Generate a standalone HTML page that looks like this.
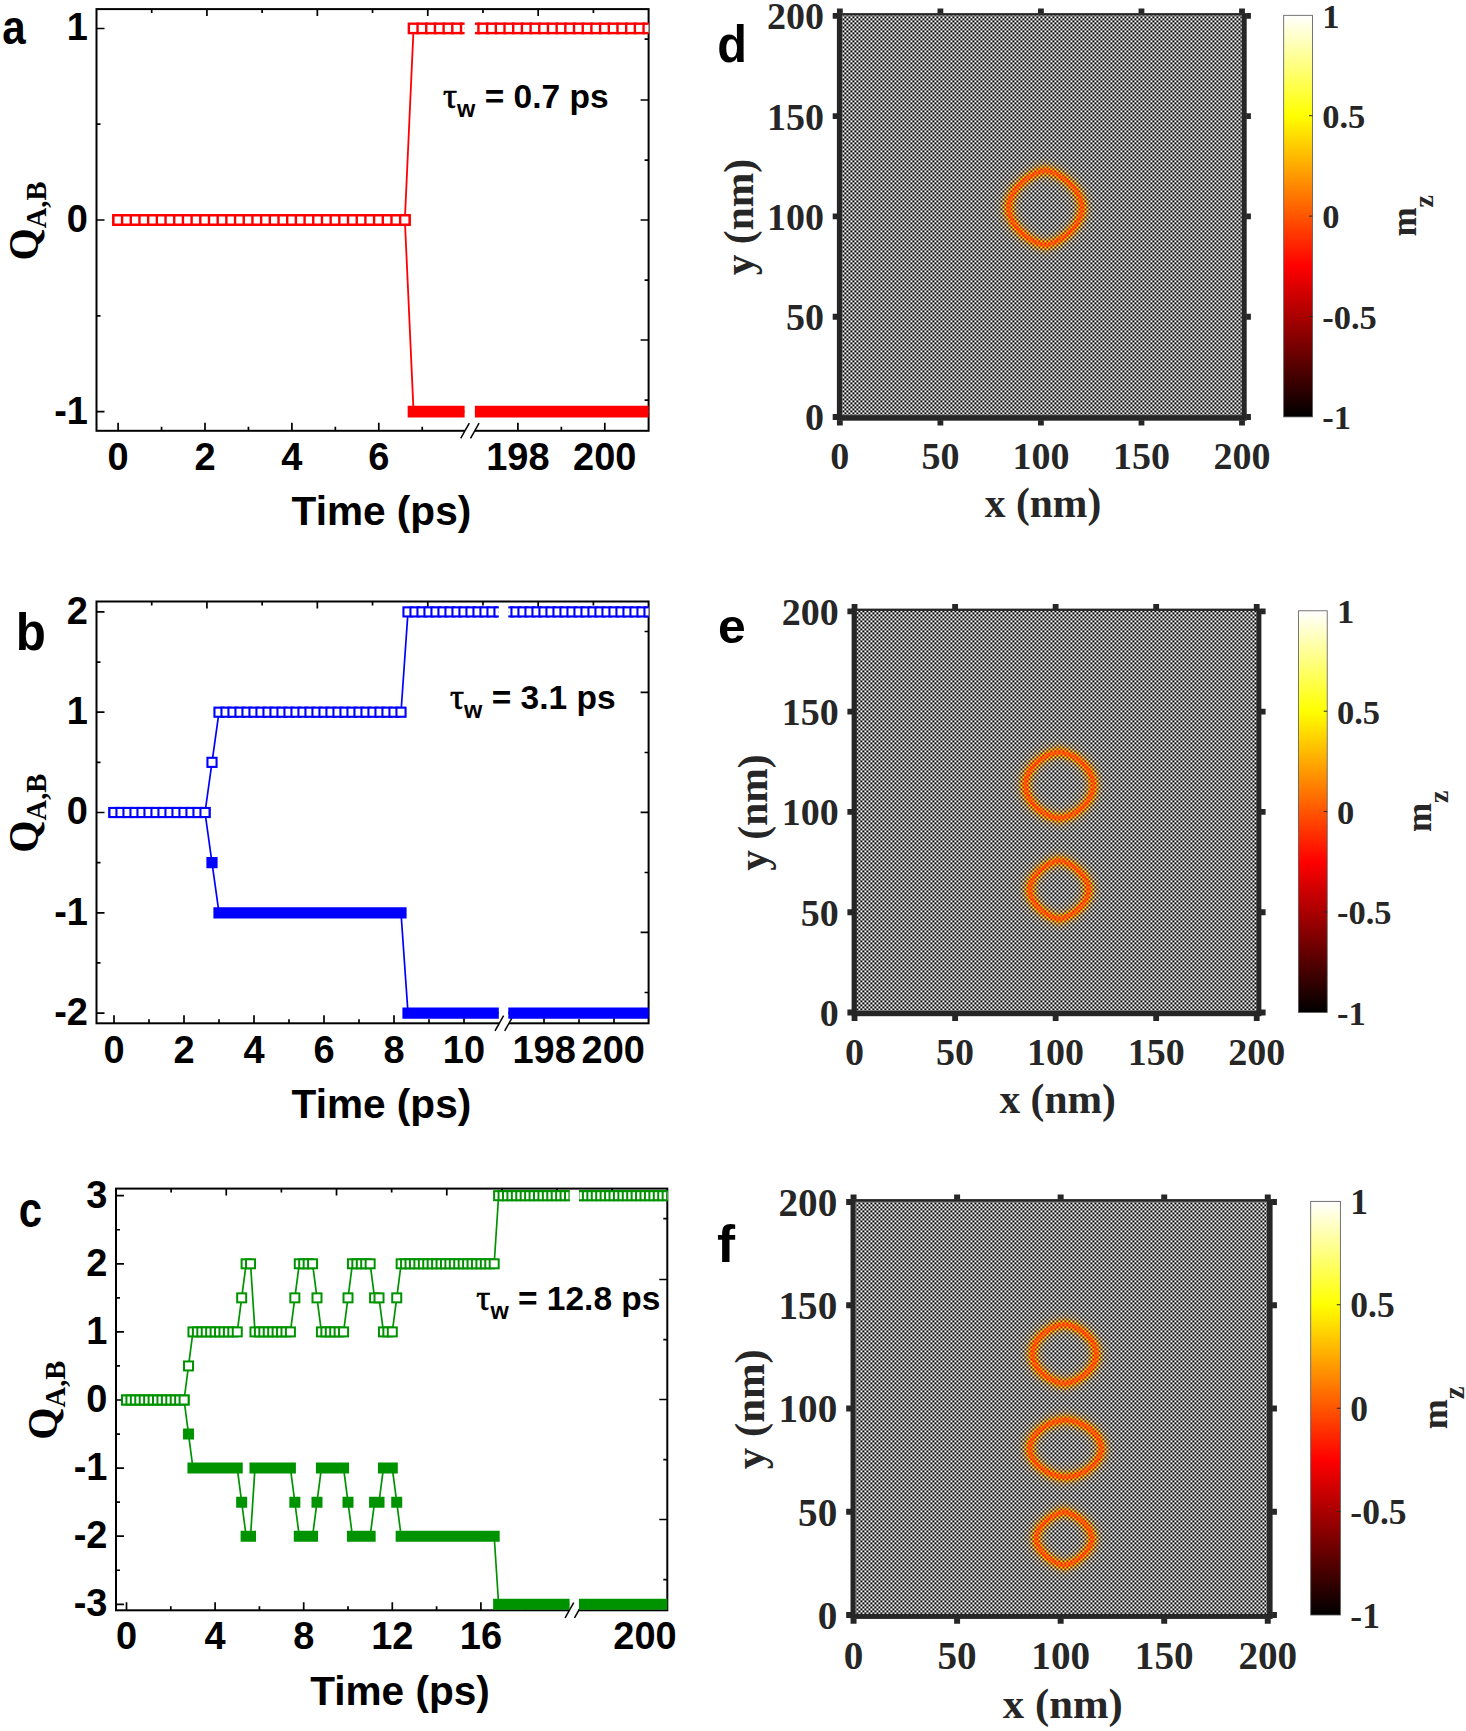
<!DOCTYPE html>
<html lang="en">
<head>
<meta charset="utf-8">
<title>Skyrmion pair nucleation: topological charge and m_z maps</title>
<style>
html,body{margin:0;padding:0;background:#fff}
body{width:1466px;height:1731px;overflow:hidden}
svg{display:block}
</style>
</head>
<body>
<svg width="1466" height="1731" viewBox="0 0 1466 1731">
<defs>
<clipPath id="ca1"><rect x="96.5" y="1.1" width="368.1" height="437.7"/></clipPath>
<clipPath id="ca2"><rect x="474.9" y="1.1" width="173.7" height="437.7"/></clipPath>
<clipPath id="cb1"><rect x="96.5" y="593.5" width="402.3" height="437.8"/></clipPath>
<clipPath id="cb2"><rect x="508.3" y="593.5" width="140.3" height="437.8"/></clipPath>
<clipPath id="cc1"><rect x="116" y="1180.6" width="453.6" height="437.7"/></clipPath>
<clipPath id="cc2"><rect x="579" y="1180.6" width="88.3" height="437.7"/></clipPath>
<pattern id="chk" patternUnits="userSpaceOnUse" x="0.4" y="0.4" width="4" height="4"><rect width="4" height="4" fill="#000"/><rect x="0" y="0" width="2" height="2" fill="#fff"/><rect x="2" y="2" width="2" height="2" fill="#fff"/></pattern>
<mask id="mB" maskUnits="userSpaceOnUse" x="830" y="0" width="460" height="1731"><rect x="830" y="0" width="460" height="1731" fill="url(#chk)"/></mask>
<linearGradient id="hotg" x1="0" y1="0" x2="0" y2="1"><stop offset="0" stop-color="#ffffff"/><stop offset="0.125" stop-color="#ffff80"/><stop offset="0.25" stop-color="#ffff00"/><stop offset="0.625" stop-color="#ff0000"/><stop offset="1" stop-color="#000000"/></linearGradient>
<clipPath id="cid"><rect x="842" y="15.35" width="399.8" height="399.95"/></clipPath>
<polygon id="rg145_190" points="1,0 0.995,0.077 0.979,0.158 0.953,0.241 0.918,0.323 0.873,0.404 0.82,0.482 0.759,0.557 0.692,0.628 0.62,0.694 0.544,0.755 0.465,0.811 0.384,0.859 0.305,0.902 0.228,0.937 0.155,0.964 0.089,0.984 0.035,0.996 0,1 -0.035,0.996 -0.089,0.984 -0.155,0.964 -0.228,0.937 -0.305,0.902 -0.384,0.859 -0.465,0.811 -0.544,0.755 -0.62,0.694 -0.692,0.628 -0.759,0.557 -0.82,0.482 -0.873,0.404 -0.918,0.323 -0.953,0.241 -0.979,0.158 -0.995,0.077 -1,0 -0.995,-0.077 -0.979,-0.158 -0.953,-0.241 -0.918,-0.323 -0.873,-0.404 -0.82,-0.482 -0.759,-0.557 -0.692,-0.628 -0.62,-0.694 -0.544,-0.755 -0.465,-0.811 -0.384,-0.859 -0.305,-0.902 -0.228,-0.937 -0.155,-0.964 -0.089,-0.984 -0.035,-0.996 -0,-1 0.035,-0.996 0.089,-0.984 0.155,-0.964 0.228,-0.937 0.305,-0.902 0.384,-0.859 0.465,-0.811 0.544,-0.755 0.62,-0.694 0.692,-0.628 0.759,-0.557 0.82,-0.482 0.873,-0.404 0.918,-0.323 0.953,-0.241 0.979,-0.158 0.995,-0.077"/>
<clipPath id="cie"><rect x="856.7" y="610.85" width="399.8" height="399.95"/></clipPath>
<polygon id="rg160_195" points="1,0 0.995,0.082 0.981,0.166 0.958,0.25 0.925,0.333 0.884,0.413 0.835,0.491 0.779,0.565 0.717,0.636 0.648,0.701 0.576,0.761 0.499,0.815 0.42,0.863 0.341,0.904 0.262,0.938 0.185,0.965 0.112,0.984 0.047,0.996 0,1 -0.047,0.996 -0.112,0.984 -0.185,0.965 -0.262,0.938 -0.341,0.904 -0.42,0.863 -0.499,0.815 -0.576,0.761 -0.648,0.701 -0.717,0.636 -0.779,0.565 -0.835,0.491 -0.884,0.413 -0.925,0.333 -0.958,0.25 -0.981,0.166 -0.995,0.082 -1,0 -0.995,-0.082 -0.981,-0.166 -0.958,-0.25 -0.925,-0.333 -0.884,-0.413 -0.835,-0.491 -0.779,-0.565 -0.717,-0.636 -0.648,-0.701 -0.576,-0.761 -0.499,-0.815 -0.42,-0.863 -0.341,-0.904 -0.262,-0.938 -0.185,-0.965 -0.112,-0.984 -0.047,-0.996 -0,-1 0.047,-0.996 0.112,-0.984 0.185,-0.965 0.262,-0.938 0.341,-0.904 0.42,-0.863 0.499,-0.815 0.576,-0.761 0.648,-0.701 0.717,-0.636 0.779,-0.565 0.835,-0.491 0.884,-0.413 0.925,-0.333 0.958,-0.25 0.981,-0.166 0.995,-0.082"/>
<polygon id="rg145_185" points="1,0 0.995,0.072 0.979,0.151 0.953,0.232 0.918,0.314 0.873,0.394 0.82,0.473 0.759,0.548 0.692,0.62 0.62,0.688 0.544,0.75 0.465,0.806 0.384,0.856 0.305,0.899 0.228,0.935 0.155,0.963 0.089,0.984 0.035,0.996 0,1 -0.035,0.996 -0.089,0.984 -0.155,0.963 -0.228,0.935 -0.305,0.899 -0.384,0.856 -0.465,0.806 -0.544,0.75 -0.62,0.688 -0.692,0.62 -0.759,0.548 -0.82,0.473 -0.873,0.394 -0.918,0.314 -0.953,0.232 -0.979,0.151 -0.995,0.072 -1,0 -0.995,-0.072 -0.979,-0.151 -0.953,-0.232 -0.918,-0.314 -0.873,-0.394 -0.82,-0.473 -0.759,-0.548 -0.692,-0.62 -0.62,-0.688 -0.544,-0.75 -0.465,-0.806 -0.384,-0.856 -0.305,-0.899 -0.228,-0.935 -0.155,-0.963 -0.089,-0.984 -0.035,-0.996 -0,-1 0.035,-0.996 0.089,-0.984 0.155,-0.963 0.228,-0.935 0.305,-0.899 0.384,-0.856 0.465,-0.806 0.544,-0.75 0.62,-0.688 0.692,-0.62 0.759,-0.548 0.82,-0.473 0.873,-0.394 0.918,-0.314 0.953,-0.232 0.979,-0.151 0.995,-0.072"/>
<clipPath id="cif"><rect x="855.4" y="1201.6" width="411.7" height="412.3"/></clipPath>
<polygon id="rg170_190" points="1,0 0.996,0.077 0.982,0.158 0.96,0.241 0.929,0.323 0.891,0.404 0.844,0.482 0.791,0.557 0.731,0.628 0.665,0.694 0.595,0.755 0.52,0.811 0.442,0.859 0.363,0.902 0.283,0.937 0.204,0.964 0.127,0.984 0.057,0.996 0,1 -0.057,0.996 -0.127,0.984 -0.204,0.964 -0.283,0.937 -0.363,0.902 -0.442,0.859 -0.52,0.811 -0.595,0.755 -0.665,0.694 -0.731,0.628 -0.791,0.557 -0.844,0.482 -0.891,0.404 -0.929,0.323 -0.96,0.241 -0.982,0.158 -0.996,0.077 -1,0 -0.996,-0.077 -0.982,-0.158 -0.96,-0.241 -0.929,-0.323 -0.891,-0.404 -0.844,-0.482 -0.791,-0.557 -0.731,-0.628 -0.665,-0.694 -0.595,-0.755 -0.52,-0.811 -0.442,-0.859 -0.363,-0.902 -0.283,-0.937 -0.204,-0.964 -0.127,-0.984 -0.057,-0.996 -0,-1 0.057,-0.996 0.127,-0.984 0.204,-0.964 0.283,-0.937 0.363,-0.902 0.442,-0.859 0.52,-0.811 0.595,-0.755 0.665,-0.694 0.731,-0.628 0.791,-0.557 0.844,-0.482 0.891,-0.404 0.929,-0.323 0.96,-0.241 0.982,-0.158 0.996,-0.077"/>
<polygon id="rg145_180" points="1,0 0.995,0.066 0.979,0.143 0.953,0.223 0.918,0.304 0.873,0.384 0.82,0.463 0.759,0.539 0.692,0.612 0.62,0.68 0.544,0.744 0.465,0.801 0.384,0.852 0.305,0.896 0.228,0.933 0.155,0.962 0.089,0.983 0.035,0.996 0,1 -0.035,0.996 -0.089,0.983 -0.155,0.962 -0.228,0.933 -0.305,0.896 -0.384,0.852 -0.465,0.801 -0.544,0.744 -0.62,0.68 -0.692,0.612 -0.759,0.539 -0.82,0.463 -0.873,0.384 -0.918,0.304 -0.953,0.223 -0.979,0.143 -0.995,0.066 -1,0 -0.995,-0.066 -0.979,-0.143 -0.953,-0.223 -0.918,-0.304 -0.873,-0.384 -0.82,-0.463 -0.759,-0.539 -0.692,-0.612 -0.62,-0.68 -0.544,-0.744 -0.465,-0.801 -0.384,-0.852 -0.305,-0.896 -0.228,-0.933 -0.155,-0.962 -0.089,-0.983 -0.035,-0.996 -0,-1 0.035,-0.996 0.089,-0.983 0.155,-0.962 0.228,-0.933 0.305,-0.896 0.384,-0.852 0.465,-0.801 0.544,-0.744 0.62,-0.68 0.692,-0.612 0.759,-0.539 0.82,-0.463 0.873,-0.384 0.918,-0.304 0.953,-0.223 0.979,-0.143 0.995,-0.066"/>
</defs>
<rect width="1466" height="1731" fill="#fff"/>
<g id="panel-a">
<g stroke="#000" stroke-width="2" fill="none" stroke-linecap="butt">
<rect x="96.5" y="9.1" width="552.1" height="421.7"/>
</g>
<path d="M118.1 430.8v-8M161.55 430.8v-4M205 430.8v-8M248.45 430.8v-4M291.9 430.8v-8M335.35 430.8v-4M378.8 430.8v-8M422.25 430.8v-4M517.9 430.8v-8M561.35 430.8v-4M604.8 430.8v-8M96.5 28.5h8M96.5 124.2h4M96.5 220h8M96.5 315.9h4M96.5 411.7h8M151.71 9.1v4M206.92 9.1v7M262.13 9.1v4M317.34 9.1v7M372.55 9.1v4M427.76 9.1v7M482.97 9.1v4M538.18 9.1v7M593.39 9.1v4M648.6 39.1h-4M648.6 100h-8M648.6 160.1h-4M648.6 220h-8M648.6 280.1h-4M648.6 340h-8M648.6 400.1h-4" stroke="#000" stroke-width="1.7" fill="none"/>
<rect x="465" y="428.8" width="9.8" height="4" fill="#fff"/>
<path d="M460.7 438.4L469.3 423.2" stroke="#000" stroke-width="1.5"/>
<path d="M470.5 438.4L479.1 423.2" stroke="#000" stroke-width="1.5"/>
<g clip-path="url(#ca1)">
<polyline points="118.1,220 126.79,220 135.48,220 144.17,220 152.86,220 161.55,220 170.24,220 178.93,220 187.62,220 196.31,220 205,220 213.69,220 222.38,220 231.07,220 239.76,220 248.45,220 257.14,220 265.83,220 274.52,220 283.21,220 291.9,220 300.59,220 309.28,220 317.97,220 326.66,220 335.35,220 344.04,220 352.73,220 361.42,220 370.11,220 378.8,220 387.49,220 396.18,220 404.87,220 413.56,411.6 422.25,411.6 430.94,411.6 439.63,411.6 448.32,411.6 457.01,411.6 465.7,411.6 474.39,411.6 483.08,411.6" fill="none" stroke="#ff0000" stroke-width="1.8" stroke-linejoin="round"/>
<path d="M112.2 214.1h11.8v11.8h-11.8zM120.89 214.1h11.8v11.8h-11.8zM129.58 214.1h11.8v11.8h-11.8zM138.27 214.1h11.8v11.8h-11.8zM146.96 214.1h11.8v11.8h-11.8zM155.65 214.1h11.8v11.8h-11.8zM164.34 214.1h11.8v11.8h-11.8zM173.03 214.1h11.8v11.8h-11.8zM181.72 214.1h11.8v11.8h-11.8zM190.41 214.1h11.8v11.8h-11.8zM199.1 214.1h11.8v11.8h-11.8zM207.79 214.1h11.8v11.8h-11.8zM216.48 214.1h11.8v11.8h-11.8zM225.17 214.1h11.8v11.8h-11.8zM233.86 214.1h11.8v11.8h-11.8zM242.55 214.1h11.8v11.8h-11.8zM251.24 214.1h11.8v11.8h-11.8zM259.93 214.1h11.8v11.8h-11.8zM268.62 214.1h11.8v11.8h-11.8zM277.31 214.1h11.8v11.8h-11.8zM286 214.1h11.8v11.8h-11.8zM294.69 214.1h11.8v11.8h-11.8zM303.38 214.1h11.8v11.8h-11.8zM312.07 214.1h11.8v11.8h-11.8zM320.76 214.1h11.8v11.8h-11.8zM329.45 214.1h11.8v11.8h-11.8zM338.14 214.1h11.8v11.8h-11.8zM346.83 214.1h11.8v11.8h-11.8zM355.52 214.1h11.8v11.8h-11.8zM364.21 214.1h11.8v11.8h-11.8zM372.9 214.1h11.8v11.8h-11.8zM381.59 214.1h11.8v11.8h-11.8zM390.28 214.1h11.8v11.8h-11.8zM398.97 214.1h11.8v11.8h-11.8zM407.66 405.7h11.8v11.8h-11.8zM416.35 405.7h11.8v11.8h-11.8zM425.04 405.7h11.8v11.8h-11.8zM433.73 405.7h11.8v11.8h-11.8zM442.42 405.7h11.8v11.8h-11.8zM451.11 405.7h11.8v11.8h-11.8zM459.8 405.7h11.8v11.8h-11.8zM468.49 405.7h11.8v11.8h-11.8zM477.18 405.7h11.8v11.8h-11.8z" fill="#ff0000"/>
<polyline points="118.1,220 126.79,220 135.48,220 144.17,220 152.86,220 161.55,220 170.24,220 178.93,220 187.62,220 196.31,220 205,220 213.69,220 222.38,220 231.07,220 239.76,220 248.45,220 257.14,220 265.83,220 274.52,220 283.21,220 291.9,220 300.59,220 309.28,220 317.97,220 326.66,220 335.35,220 344.04,220 352.73,220 361.42,220 370.11,220 378.8,220 387.49,220 396.18,220 404.87,220 413.56,28.4 422.25,28.4 430.94,28.4 439.63,28.4 448.32,28.4 457.01,28.4 465.7,28.4 474.39,28.4 483.08,28.4" fill="none" stroke="#ff0000" stroke-width="1.8" stroke-linejoin="round"/>
<g fill="#fff" stroke="#ff0000" stroke-width="2.4"><rect x="113.4" y="215.3" width="9.4" height="9.4"/><rect x="122.09" y="215.3" width="9.4" height="9.4"/><rect x="130.78" y="215.3" width="9.4" height="9.4"/><rect x="139.47" y="215.3" width="9.4" height="9.4"/><rect x="148.16" y="215.3" width="9.4" height="9.4"/><rect x="156.85" y="215.3" width="9.4" height="9.4"/><rect x="165.54" y="215.3" width="9.4" height="9.4"/><rect x="174.23" y="215.3" width="9.4" height="9.4"/><rect x="182.92" y="215.3" width="9.4" height="9.4"/><rect x="191.61" y="215.3" width="9.4" height="9.4"/><rect x="200.3" y="215.3" width="9.4" height="9.4"/><rect x="208.99" y="215.3" width="9.4" height="9.4"/><rect x="217.68" y="215.3" width="9.4" height="9.4"/><rect x="226.37" y="215.3" width="9.4" height="9.4"/><rect x="235.06" y="215.3" width="9.4" height="9.4"/><rect x="243.75" y="215.3" width="9.4" height="9.4"/><rect x="252.44" y="215.3" width="9.4" height="9.4"/><rect x="261.13" y="215.3" width="9.4" height="9.4"/><rect x="269.82" y="215.3" width="9.4" height="9.4"/><rect x="278.51" y="215.3" width="9.4" height="9.4"/><rect x="287.2" y="215.3" width="9.4" height="9.4"/><rect x="295.89" y="215.3" width="9.4" height="9.4"/><rect x="304.58" y="215.3" width="9.4" height="9.4"/><rect x="313.27" y="215.3" width="9.4" height="9.4"/><rect x="321.96" y="215.3" width="9.4" height="9.4"/><rect x="330.65" y="215.3" width="9.4" height="9.4"/><rect x="339.34" y="215.3" width="9.4" height="9.4"/><rect x="348.03" y="215.3" width="9.4" height="9.4"/><rect x="356.72" y="215.3" width="9.4" height="9.4"/><rect x="365.41" y="215.3" width="9.4" height="9.4"/><rect x="374.1" y="215.3" width="9.4" height="9.4"/><rect x="382.79" y="215.3" width="9.4" height="9.4"/><rect x="391.48" y="215.3" width="9.4" height="9.4"/><rect x="400.17" y="215.3" width="9.4" height="9.4"/><rect x="408.86" y="23.7" width="9.4" height="9.4"/><rect x="417.55" y="23.7" width="9.4" height="9.4"/><rect x="426.24" y="23.7" width="9.4" height="9.4"/><rect x="434.93" y="23.7" width="9.4" height="9.4"/><rect x="443.62" y="23.7" width="9.4" height="9.4"/><rect x="452.31" y="23.7" width="9.4" height="9.4"/><rect x="461" y="23.7" width="9.4" height="9.4"/><rect x="469.69" y="23.7" width="9.4" height="9.4"/><rect x="478.38" y="23.7" width="9.4" height="9.4"/></g>
</g>
<g clip-path="url(#ca2)">
<polyline points="457.07,411.6 465.76,411.6 474.45,411.6 483.14,411.6 491.83,411.6 500.52,411.6 509.21,411.6 517.9,411.6 526.59,411.6 535.28,411.6 543.97,411.6 552.66,411.6 561.35,411.6 570.04,411.6 578.73,411.6 587.42,411.6 596.11,411.6 604.8,411.6 613.49,411.6 622.18,411.6 630.87,411.6 639.56,411.6 648.25,411.6 656.94,411.6 665.63,411.6" fill="none" stroke="#ff0000" stroke-width="1.8" stroke-linejoin="round"/>
<path d="M451.17 405.7h11.8v11.8h-11.8zM459.86 405.7h11.8v11.8h-11.8zM468.55 405.7h11.8v11.8h-11.8zM477.24 405.7h11.8v11.8h-11.8zM485.93 405.7h11.8v11.8h-11.8zM494.62 405.7h11.8v11.8h-11.8zM503.31 405.7h11.8v11.8h-11.8zM512 405.7h11.8v11.8h-11.8zM520.69 405.7h11.8v11.8h-11.8zM529.38 405.7h11.8v11.8h-11.8zM538.07 405.7h11.8v11.8h-11.8zM546.76 405.7h11.8v11.8h-11.8zM555.45 405.7h11.8v11.8h-11.8zM564.14 405.7h11.8v11.8h-11.8zM572.83 405.7h11.8v11.8h-11.8zM581.52 405.7h11.8v11.8h-11.8zM590.21 405.7h11.8v11.8h-11.8zM598.9 405.7h11.8v11.8h-11.8zM607.59 405.7h11.8v11.8h-11.8zM616.28 405.7h11.8v11.8h-11.8zM624.97 405.7h11.8v11.8h-11.8zM633.66 405.7h11.8v11.8h-11.8zM642.35 405.7h11.8v11.8h-11.8zM651.04 405.7h11.8v11.8h-11.8zM659.73 405.7h11.8v11.8h-11.8z" fill="#ff0000"/>
<polyline points="457.07,28.4 465.76,28.4 474.45,28.4 483.14,28.4 491.83,28.4 500.52,28.4 509.21,28.4 517.9,28.4 526.59,28.4 535.28,28.4 543.97,28.4 552.66,28.4 561.35,28.4 570.04,28.4 578.73,28.4 587.42,28.4 596.11,28.4 604.8,28.4 613.49,28.4 622.18,28.4 630.87,28.4 639.56,28.4 648.25,28.4 656.94,28.4 665.63,28.4" fill="none" stroke="#ff0000" stroke-width="1.8" stroke-linejoin="round"/>
<g fill="#fff" stroke="#ff0000" stroke-width="2.4"><rect x="452.37" y="23.7" width="9.4" height="9.4"/><rect x="461.06" y="23.7" width="9.4" height="9.4"/><rect x="469.75" y="23.7" width="9.4" height="9.4"/><rect x="478.44" y="23.7" width="9.4" height="9.4"/><rect x="487.13" y="23.7" width="9.4" height="9.4"/><rect x="495.82" y="23.7" width="9.4" height="9.4"/><rect x="504.51" y="23.7" width="9.4" height="9.4"/><rect x="513.2" y="23.7" width="9.4" height="9.4"/><rect x="521.89" y="23.7" width="9.4" height="9.4"/><rect x="530.58" y="23.7" width="9.4" height="9.4"/><rect x="539.27" y="23.7" width="9.4" height="9.4"/><rect x="547.96" y="23.7" width="9.4" height="9.4"/><rect x="556.65" y="23.7" width="9.4" height="9.4"/><rect x="565.34" y="23.7" width="9.4" height="9.4"/><rect x="574.03" y="23.7" width="9.4" height="9.4"/><rect x="582.72" y="23.7" width="9.4" height="9.4"/><rect x="591.41" y="23.7" width="9.4" height="9.4"/><rect x="600.1" y="23.7" width="9.4" height="9.4"/><rect x="608.79" y="23.7" width="9.4" height="9.4"/><rect x="617.48" y="23.7" width="9.4" height="9.4"/><rect x="626.17" y="23.7" width="9.4" height="9.4"/><rect x="634.86" y="23.7" width="9.4" height="9.4"/><rect x="643.55" y="23.7" width="9.4" height="9.4"/><rect x="652.24" y="23.7" width="9.4" height="9.4"/><rect x="660.93" y="23.7" width="9.4" height="9.4"/></g>
</g>
<g font-family='"Liberation Sans", Arial, Helvetica, sans-serif' font-weight="bold" font-size="38" fill="#000">
<g text-anchor="middle">
<text transform="translate(118.1 470.1) scale(1 1.045)">0</text>
<text transform="translate(205 470.1) scale(1 1.045)">2</text>
<text transform="translate(291.9 470.1) scale(1 1.045)">4</text>
<text transform="translate(378.8 470.1) scale(1 1.045)">6</text>
<text transform="translate(517.9 470.1) scale(1 1.045)">198</text>
<text transform="translate(604.8 470.1) scale(1 1.045)">200</text>
</g><g text-anchor="end">
<text transform="translate(88 40.4) scale(1 1.045)">1</text>
<text transform="translate(88 231.9) scale(1 1.045)">0</text>
<text transform="translate(88 423.6) scale(1 1.045)">-1</text>
</g></g>
<text x="381.4" y="524.9" text-anchor="middle" font-family='"Liberation Sans", Arial, Helvetica, sans-serif' font-weight="bold" font-size="40.6" fill="#000">Time (ps)</text>
<text transform="translate(37.9 260.5) rotate(-90)" font-family='"Liberation Serif", "Times New Roman", Times, serif' font-weight="bold" font-size="41.5" fill="#000">Q<tspan font-size="28.5" dy="8">A,B</tspan></text>
<text x="443" y="108" font-family='"Liberation Sans", Arial, Helvetica, sans-serif' font-weight="bold" font-size="33.5" fill="#000"><tspan font-family='"Liberation Serif", "Times New Roman", Times, serif' font-weight="normal" font-size="35" stroke="#000" stroke-width="0.7">τ</tspan><tspan font-size="23.5" dy="8.8">w</tspan><tspan dy="-8.8"> = 0.7 ps</tspan></text>
<text transform="translate(2.14 43.72) scale(0.8421 0.9653)" font-family='"Liberation Sans", Arial, Helvetica, sans-serif' font-weight="bold" font-size="50" fill="#000">a</text>
</g>
<g id="panel-b">
<g stroke="#000" stroke-width="2" fill="none" stroke-linecap="butt">
<rect x="96.5" y="601.5" width="552.1" height="421.8"/>
</g>
<path d="M114 1023.3v-8M149 1023.3v-4M184 1023.3v-8M219 1023.3v-4M254 1023.3v-8M289 1023.3v-4M324 1023.3v-8M359 1023.3v-4M394 1023.3v-8M429 1023.3v-4M464 1023.3v-8M544 1023.3v-8M579 1023.3v-4M614 1023.3v-8M96.5 611.9h8M96.5 662.05h4M96.5 712.2h8M96.5 762.35h4M96.5 812.5h8M96.5 862.65h4M96.5 912.8h8M96.5 962.95h4M96.5 1013.1h8M151.71 601.5v4M206.92 601.5v7M262.13 601.5v4M317.34 601.5v7M372.55 601.5v4M427.76 601.5v7M482.97 601.5v4M538.18 601.5v7M593.39 601.5v4M648.6 631.5h-4M648.6 692.4h-8M648.6 752.5h-4M648.6 812.4h-8M648.6 872.5h-4M648.6 932.4h-8M648.6 992.5h-4" stroke="#000" stroke-width="1.7" fill="none"/>
<rect x="499.3" y="1021.3" width="9.7" height="4" fill="#fff"/>
<path d="M495 1030.9L503.6 1015.7" stroke="#000" stroke-width="1.5"/>
<path d="M504.7 1030.9L513.3 1015.7" stroke="#000" stroke-width="1.5"/>
<g clip-path="url(#cb1)">
<polyline points="114,812.5 121,812.5 128,812.5 135,812.5 142,812.5 149,812.5 156,812.5 163,812.5 170,812.5 177,812.5 184,812.5 191,812.5 198,812.5 205,812.5 212,862.65 219,912.8 226,912.8 233,912.8 240,912.8 247,912.8 254,912.8 261,912.8 268,912.8 275,912.8 282,912.8 289,912.8 296,912.8 303,912.8 310,912.8 317,912.8 324,912.8 331,912.8 338,912.8 345,912.8 352,912.8 359,912.8 366,912.8 373,912.8 380,912.8 387,912.8 394,912.8 401,912.8 408,1013.1 415,1013.1 422,1013.1 429,1013.1 436,1013.1 443,1013.1 450,1013.1 457,1013.1 464,1013.1 471,1013.1 478,1013.1 485,1013.1 492,1013.1 499,1013.1 506,1013.1 513,1013.1 520,1013.1" fill="none" stroke="#0000ff" stroke-width="1.7" stroke-linejoin="round"/>
<path d="M108.4 806.9h11.2v11.2h-11.2zM115.4 806.9h11.2v11.2h-11.2zM122.4 806.9h11.2v11.2h-11.2zM129.4 806.9h11.2v11.2h-11.2zM136.4 806.9h11.2v11.2h-11.2zM143.4 806.9h11.2v11.2h-11.2zM150.4 806.9h11.2v11.2h-11.2zM157.4 806.9h11.2v11.2h-11.2zM164.4 806.9h11.2v11.2h-11.2zM171.4 806.9h11.2v11.2h-11.2zM178.4 806.9h11.2v11.2h-11.2zM185.4 806.9h11.2v11.2h-11.2zM192.4 806.9h11.2v11.2h-11.2zM199.4 806.9h11.2v11.2h-11.2zM206.4 857.05h11.2v11.2h-11.2zM213.4 907.2h11.2v11.2h-11.2zM220.4 907.2h11.2v11.2h-11.2zM227.4 907.2h11.2v11.2h-11.2zM234.4 907.2h11.2v11.2h-11.2zM241.4 907.2h11.2v11.2h-11.2zM248.4 907.2h11.2v11.2h-11.2zM255.4 907.2h11.2v11.2h-11.2zM262.4 907.2h11.2v11.2h-11.2zM269.4 907.2h11.2v11.2h-11.2zM276.4 907.2h11.2v11.2h-11.2zM283.4 907.2h11.2v11.2h-11.2zM290.4 907.2h11.2v11.2h-11.2zM297.4 907.2h11.2v11.2h-11.2zM304.4 907.2h11.2v11.2h-11.2zM311.4 907.2h11.2v11.2h-11.2zM318.4 907.2h11.2v11.2h-11.2zM325.4 907.2h11.2v11.2h-11.2zM332.4 907.2h11.2v11.2h-11.2zM339.4 907.2h11.2v11.2h-11.2zM346.4 907.2h11.2v11.2h-11.2zM353.4 907.2h11.2v11.2h-11.2zM360.4 907.2h11.2v11.2h-11.2zM367.4 907.2h11.2v11.2h-11.2zM374.4 907.2h11.2v11.2h-11.2zM381.4 907.2h11.2v11.2h-11.2zM388.4 907.2h11.2v11.2h-11.2zM395.4 907.2h11.2v11.2h-11.2zM402.4 1007.5h11.2v11.2h-11.2zM409.4 1007.5h11.2v11.2h-11.2zM416.4 1007.5h11.2v11.2h-11.2zM423.4 1007.5h11.2v11.2h-11.2zM430.4 1007.5h11.2v11.2h-11.2zM437.4 1007.5h11.2v11.2h-11.2zM444.4 1007.5h11.2v11.2h-11.2zM451.4 1007.5h11.2v11.2h-11.2zM458.4 1007.5h11.2v11.2h-11.2zM465.4 1007.5h11.2v11.2h-11.2zM472.4 1007.5h11.2v11.2h-11.2zM479.4 1007.5h11.2v11.2h-11.2zM486.4 1007.5h11.2v11.2h-11.2zM493.4 1007.5h11.2v11.2h-11.2zM500.4 1007.5h11.2v11.2h-11.2zM507.4 1007.5h11.2v11.2h-11.2zM514.4 1007.5h11.2v11.2h-11.2z" fill="#0000ff"/>
<polyline points="114,812.5 121,812.5 128,812.5 135,812.5 142,812.5 149,812.5 156,812.5 163,812.5 170,812.5 177,812.5 184,812.5 191,812.5 198,812.5 205,812.5 212,762.35 219,712.2 226,712.2 233,712.2 240,712.2 247,712.2 254,712.2 261,712.2 268,712.2 275,712.2 282,712.2 289,712.2 296,712.2 303,712.2 310,712.2 317,712.2 324,712.2 331,712.2 338,712.2 345,712.2 352,712.2 359,712.2 366,712.2 373,712.2 380,712.2 387,712.2 394,712.2 401,712.2 408,611.9 415,611.9 422,611.9 429,611.9 436,611.9 443,611.9 450,611.9 457,611.9 464,611.9 471,611.9 478,611.9 485,611.9 492,611.9 499,611.9 506,611.9 513,611.9 520,611.9" fill="none" stroke="#0000ff" stroke-width="1.7" stroke-linejoin="round"/>
<g fill="#fff" stroke="#0000ff" stroke-width="2.1"><rect x="109.45" y="807.95" width="9.1" height="9.1"/><rect x="116.45" y="807.95" width="9.1" height="9.1"/><rect x="123.45" y="807.95" width="9.1" height="9.1"/><rect x="130.45" y="807.95" width="9.1" height="9.1"/><rect x="137.45" y="807.95" width="9.1" height="9.1"/><rect x="144.45" y="807.95" width="9.1" height="9.1"/><rect x="151.45" y="807.95" width="9.1" height="9.1"/><rect x="158.45" y="807.95" width="9.1" height="9.1"/><rect x="165.45" y="807.95" width="9.1" height="9.1"/><rect x="172.45" y="807.95" width="9.1" height="9.1"/><rect x="179.45" y="807.95" width="9.1" height="9.1"/><rect x="186.45" y="807.95" width="9.1" height="9.1"/><rect x="193.45" y="807.95" width="9.1" height="9.1"/><rect x="200.45" y="807.95" width="9.1" height="9.1"/><rect x="207.45" y="757.8" width="9.1" height="9.1"/><rect x="214.45" y="707.65" width="9.1" height="9.1"/><rect x="221.45" y="707.65" width="9.1" height="9.1"/><rect x="228.45" y="707.65" width="9.1" height="9.1"/><rect x="235.45" y="707.65" width="9.1" height="9.1"/><rect x="242.45" y="707.65" width="9.1" height="9.1"/><rect x="249.45" y="707.65" width="9.1" height="9.1"/><rect x="256.45" y="707.65" width="9.1" height="9.1"/><rect x="263.45" y="707.65" width="9.1" height="9.1"/><rect x="270.45" y="707.65" width="9.1" height="9.1"/><rect x="277.45" y="707.65" width="9.1" height="9.1"/><rect x="284.45" y="707.65" width="9.1" height="9.1"/><rect x="291.45" y="707.65" width="9.1" height="9.1"/><rect x="298.45" y="707.65" width="9.1" height="9.1"/><rect x="305.45" y="707.65" width="9.1" height="9.1"/><rect x="312.45" y="707.65" width="9.1" height="9.1"/><rect x="319.45" y="707.65" width="9.1" height="9.1"/><rect x="326.45" y="707.65" width="9.1" height="9.1"/><rect x="333.45" y="707.65" width="9.1" height="9.1"/><rect x="340.45" y="707.65" width="9.1" height="9.1"/><rect x="347.45" y="707.65" width="9.1" height="9.1"/><rect x="354.45" y="707.65" width="9.1" height="9.1"/><rect x="361.45" y="707.65" width="9.1" height="9.1"/><rect x="368.45" y="707.65" width="9.1" height="9.1"/><rect x="375.45" y="707.65" width="9.1" height="9.1"/><rect x="382.45" y="707.65" width="9.1" height="9.1"/><rect x="389.45" y="707.65" width="9.1" height="9.1"/><rect x="396.45" y="707.65" width="9.1" height="9.1"/><rect x="403.45" y="607.35" width="9.1" height="9.1"/><rect x="410.45" y="607.35" width="9.1" height="9.1"/><rect x="417.45" y="607.35" width="9.1" height="9.1"/><rect x="424.45" y="607.35" width="9.1" height="9.1"/><rect x="431.45" y="607.35" width="9.1" height="9.1"/><rect x="438.45" y="607.35" width="9.1" height="9.1"/><rect x="445.45" y="607.35" width="9.1" height="9.1"/><rect x="452.45" y="607.35" width="9.1" height="9.1"/><rect x="459.45" y="607.35" width="9.1" height="9.1"/><rect x="466.45" y="607.35" width="9.1" height="9.1"/><rect x="473.45" y="607.35" width="9.1" height="9.1"/><rect x="480.45" y="607.35" width="9.1" height="9.1"/><rect x="487.45" y="607.35" width="9.1" height="9.1"/><rect x="494.45" y="607.35" width="9.1" height="9.1"/><rect x="501.45" y="607.35" width="9.1" height="9.1"/><rect x="508.45" y="607.35" width="9.1" height="9.1"/><rect x="515.45" y="607.35" width="9.1" height="9.1"/></g>
</g>
<g clip-path="url(#cb2)">
<polyline points="495,1013.1 502,1013.1 509,1013.1 516,1013.1 523,1013.1 530,1013.1 537,1013.1 544,1013.1 551,1013.1 558,1013.1 565,1013.1 572,1013.1 579,1013.1 586,1013.1 593,1013.1 600,1013.1 607,1013.1 614,1013.1 621,1013.1 628,1013.1 635,1013.1 642,1013.1 649,1013.1 656,1013.1 663,1013.1" fill="none" stroke="#0000ff" stroke-width="1.7" stroke-linejoin="round"/>
<path d="M489.4 1007.5h11.2v11.2h-11.2zM496.4 1007.5h11.2v11.2h-11.2zM503.4 1007.5h11.2v11.2h-11.2zM510.4 1007.5h11.2v11.2h-11.2zM517.4 1007.5h11.2v11.2h-11.2zM524.4 1007.5h11.2v11.2h-11.2zM531.4 1007.5h11.2v11.2h-11.2zM538.4 1007.5h11.2v11.2h-11.2zM545.4 1007.5h11.2v11.2h-11.2zM552.4 1007.5h11.2v11.2h-11.2zM559.4 1007.5h11.2v11.2h-11.2zM566.4 1007.5h11.2v11.2h-11.2zM573.4 1007.5h11.2v11.2h-11.2zM580.4 1007.5h11.2v11.2h-11.2zM587.4 1007.5h11.2v11.2h-11.2zM594.4 1007.5h11.2v11.2h-11.2zM601.4 1007.5h11.2v11.2h-11.2zM608.4 1007.5h11.2v11.2h-11.2zM615.4 1007.5h11.2v11.2h-11.2zM622.4 1007.5h11.2v11.2h-11.2zM629.4 1007.5h11.2v11.2h-11.2zM636.4 1007.5h11.2v11.2h-11.2zM643.4 1007.5h11.2v11.2h-11.2zM650.4 1007.5h11.2v11.2h-11.2zM657.4 1007.5h11.2v11.2h-11.2z" fill="#0000ff"/>
<polyline points="495,611.9 502,611.9 509,611.9 516,611.9 523,611.9 530,611.9 537,611.9 544,611.9 551,611.9 558,611.9 565,611.9 572,611.9 579,611.9 586,611.9 593,611.9 600,611.9 607,611.9 614,611.9 621,611.9 628,611.9 635,611.9 642,611.9 649,611.9 656,611.9 663,611.9" fill="none" stroke="#0000ff" stroke-width="1.7" stroke-linejoin="round"/>
<g fill="#fff" stroke="#0000ff" stroke-width="2.1"><rect x="490.45" y="607.35" width="9.1" height="9.1"/><rect x="497.45" y="607.35" width="9.1" height="9.1"/><rect x="504.45" y="607.35" width="9.1" height="9.1"/><rect x="511.45" y="607.35" width="9.1" height="9.1"/><rect x="518.45" y="607.35" width="9.1" height="9.1"/><rect x="525.45" y="607.35" width="9.1" height="9.1"/><rect x="532.45" y="607.35" width="9.1" height="9.1"/><rect x="539.45" y="607.35" width="9.1" height="9.1"/><rect x="546.45" y="607.35" width="9.1" height="9.1"/><rect x="553.45" y="607.35" width="9.1" height="9.1"/><rect x="560.45" y="607.35" width="9.1" height="9.1"/><rect x="567.45" y="607.35" width="9.1" height="9.1"/><rect x="574.45" y="607.35" width="9.1" height="9.1"/><rect x="581.45" y="607.35" width="9.1" height="9.1"/><rect x="588.45" y="607.35" width="9.1" height="9.1"/><rect x="595.45" y="607.35" width="9.1" height="9.1"/><rect x="602.45" y="607.35" width="9.1" height="9.1"/><rect x="609.45" y="607.35" width="9.1" height="9.1"/><rect x="616.45" y="607.35" width="9.1" height="9.1"/><rect x="623.45" y="607.35" width="9.1" height="9.1"/><rect x="630.45" y="607.35" width="9.1" height="9.1"/><rect x="637.45" y="607.35" width="9.1" height="9.1"/><rect x="644.45" y="607.35" width="9.1" height="9.1"/><rect x="651.45" y="607.35" width="9.1" height="9.1"/><rect x="658.45" y="607.35" width="9.1" height="9.1"/></g>
</g>
<g font-family='"Liberation Sans", Arial, Helvetica, sans-serif' font-weight="bold" font-size="38" fill="#000">
<g text-anchor="middle">
<text transform="translate(114 1062.9) scale(1 1.045)">0</text>
<text transform="translate(184 1062.9) scale(1 1.045)">2</text>
<text transform="translate(254 1062.9) scale(1 1.045)">4</text>
<text transform="translate(324 1062.9) scale(1 1.045)">6</text>
<text transform="translate(394 1062.9) scale(1 1.045)">8</text>
<text transform="translate(464 1062.9) scale(1 1.045)">10</text>
<text transform="translate(544.1 1062.9) scale(1 1.045)">198</text>
<text transform="translate(613.2 1062.9) scale(1 1.045)">200</text>
</g><g text-anchor="end">
<text transform="translate(88 623.8) scale(1 1.045)">2</text>
<text transform="translate(88 724.1) scale(1 1.045)">1</text>
<text transform="translate(88 824.4) scale(1 1.045)">0</text>
<text transform="translate(88 924.7) scale(1 1.045)">-1</text>
<text transform="translate(88 1025) scale(1 1.045)">-2</text>
</g></g>
<text x="381.4" y="1117.5" text-anchor="middle" font-family='"Liberation Sans", Arial, Helvetica, sans-serif' font-weight="bold" font-size="40.6" fill="#000">Time (ps)</text>
<text transform="translate(37.9 852.7) rotate(-90)" font-family='"Liberation Serif", "Times New Roman", Times, serif' font-weight="bold" font-size="41.5" fill="#000">Q<tspan font-size="28.5" dy="8">A,B</tspan></text>
<text x="450" y="709" font-family='"Liberation Sans", Arial, Helvetica, sans-serif' font-weight="bold" font-size="33.5" fill="#000"><tspan font-family='"Liberation Serif", "Times New Roman", Times, serif' font-weight="normal" font-size="35" stroke="#000" stroke-width="0.7">τ</tspan><tspan font-size="23.5" dy="8.8">w</tspan><tspan dy="-8.8"> = 3.1 ps</tspan></text>
<text transform="translate(15.8 650.48) scale(0.9861 1.0367)" font-family='"Liberation Sans", Arial, Helvetica, sans-serif' font-weight="bold" font-size="50" fill="#000">b</text>
</g>
<g id="panel-c">
<g stroke="#000" stroke-width="2" fill="none" stroke-linecap="butt">
<rect x="116" y="1188.6" width="551.3" height="421.7"/>
</g>
<path d="M126.5 1610.3v-8M170.8 1610.3v-4M215.1 1610.3v-8M259.4 1610.3v-4M303.7 1610.3v-8M348 1610.3v-4M392.3 1610.3v-8M436.6 1610.3v-4M480.9 1610.3v-8M525.2 1610.3v-4M116 1604.3h8M116 1570.25h4M116 1536.2h8M116 1502.15h4M116 1468.1h8M116 1434.05h4M116 1400h8M116 1365.95h4M116 1331.9h8M116 1297.85h4M116 1263.8h8M116 1229.75h4M116 1195.7h8M171.13 1188.6v4M226.26 1188.6v7M281.39 1188.6v4M336.52 1188.6v7M391.65 1188.6v4M446.78 1188.6v7M501.91 1188.6v4M557.04 1188.6v7M612.17 1188.6v4M667.3 1218.6h-4M667.3 1279.5h-8M667.3 1339.6h-4M667.3 1399.5h-8M667.3 1459.6h-4M667.3 1519.5h-8M667.3 1579.6h-4" stroke="#000" stroke-width="1.7" fill="none"/>
<rect x="569.4" y="1608.3" width="9.4" height="4" fill="#fff"/>
<path d="M565.1 1617.9L573.7 1602.7" stroke="#000" stroke-width="1.5"/>
<path d="M574.5 1617.9L583.1 1602.7" stroke="#000" stroke-width="1.5"/>
<g clip-path="url(#cc1)">
<polyline points="126.5,1400 130.93,1400 135.36,1400 139.79,1400 144.22,1400 148.65,1400 153.08,1400 157.51,1400 161.94,1400 166.37,1400 170.8,1400 175.23,1400 179.66,1400 184.09,1400 188.52,1434.05 192.95,1468.1 197.38,1468.1 201.81,1468.1 206.24,1468.1 210.67,1468.1 215.1,1468.1 219.53,1468.1 223.96,1468.1 228.39,1468.1 232.82,1468.1 237.25,1468.1 241.68,1502.15 246.11,1536.2 250.54,1536.2 254.97,1468.1 259.4,1468.1 263.83,1468.1 268.26,1468.1 272.69,1468.1 277.12,1468.1 281.55,1468.1 285.98,1468.1 290.41,1468.1 294.84,1502.15 299.27,1536.2 303.7,1536.2 308.13,1536.2 312.56,1536.2 316.99,1502.15 321.42,1468.1 325.85,1468.1 330.28,1468.1 334.71,1468.1 339.14,1468.1 343.57,1468.1 348,1502.15 352.43,1536.2 356.86,1536.2 361.29,1536.2 365.72,1536.2 370.15,1536.2 374.58,1502.15 379.01,1502.15 383.44,1468.1 387.87,1468.1 392.3,1468.1 396.73,1502.15 401.16,1536.2 405.59,1536.2 410.02,1536.2 414.45,1536.2 418.88,1536.2 423.31,1536.2 427.74,1536.2 432.17,1536.2 436.6,1536.2 441.03,1536.2 445.46,1536.2 449.89,1536.2 454.32,1536.2 458.75,1536.2 463.18,1536.2 467.61,1536.2 472.04,1536.2 476.47,1536.2 480.9,1536.2 485.33,1536.2 489.76,1536.2 494.19,1536.2 498.62,1604.3 503.05,1604.3 507.48,1604.3 511.91,1604.3 516.34,1604.3 520.77,1604.3 525.2,1604.3 529.63,1604.3 534.06,1604.3 538.49,1604.3 542.92,1604.3 547.35,1604.3 551.78,1604.3 556.21,1604.3 560.64,1604.3 565.07,1604.3 569.5,1604.3 573.93,1604.3 578.36,1604.3 582.79,1604.3" fill="none" stroke="#009300" stroke-width="1.7" stroke-linejoin="round"/>
<path d="M121 1394.5h11v11h-11zM125.43 1394.5h11v11h-11zM129.86 1394.5h11v11h-11zM134.29 1394.5h11v11h-11zM138.72 1394.5h11v11h-11zM143.15 1394.5h11v11h-11zM147.58 1394.5h11v11h-11zM152.01 1394.5h11v11h-11zM156.44 1394.5h11v11h-11zM160.87 1394.5h11v11h-11zM165.3 1394.5h11v11h-11zM169.73 1394.5h11v11h-11zM174.16 1394.5h11v11h-11zM178.59 1394.5h11v11h-11zM183.02 1428.55h11v11h-11zM187.45 1462.6h11v11h-11zM191.88 1462.6h11v11h-11zM196.31 1462.6h11v11h-11zM200.74 1462.6h11v11h-11zM205.17 1462.6h11v11h-11zM209.6 1462.6h11v11h-11zM214.03 1462.6h11v11h-11zM218.46 1462.6h11v11h-11zM222.89 1462.6h11v11h-11zM227.32 1462.6h11v11h-11zM231.75 1462.6h11v11h-11zM236.18 1496.65h11v11h-11zM240.61 1530.7h11v11h-11zM245.04 1530.7h11v11h-11zM249.47 1462.6h11v11h-11zM253.9 1462.6h11v11h-11zM258.33 1462.6h11v11h-11zM262.76 1462.6h11v11h-11zM267.19 1462.6h11v11h-11zM271.62 1462.6h11v11h-11zM276.05 1462.6h11v11h-11zM280.48 1462.6h11v11h-11zM284.91 1462.6h11v11h-11zM289.34 1496.65h11v11h-11zM293.77 1530.7h11v11h-11zM298.2 1530.7h11v11h-11zM302.63 1530.7h11v11h-11zM307.06 1530.7h11v11h-11zM311.49 1496.65h11v11h-11zM315.92 1462.6h11v11h-11zM320.35 1462.6h11v11h-11zM324.78 1462.6h11v11h-11zM329.21 1462.6h11v11h-11zM333.64 1462.6h11v11h-11zM338.07 1462.6h11v11h-11zM342.5 1496.65h11v11h-11zM346.93 1530.7h11v11h-11zM351.36 1530.7h11v11h-11zM355.79 1530.7h11v11h-11zM360.22 1530.7h11v11h-11zM364.65 1530.7h11v11h-11zM369.08 1496.65h11v11h-11zM373.51 1496.65h11v11h-11zM377.94 1462.6h11v11h-11zM382.37 1462.6h11v11h-11zM386.8 1462.6h11v11h-11zM391.23 1496.65h11v11h-11zM395.66 1530.7h11v11h-11zM400.09 1530.7h11v11h-11zM404.52 1530.7h11v11h-11zM408.95 1530.7h11v11h-11zM413.38 1530.7h11v11h-11zM417.81 1530.7h11v11h-11zM422.24 1530.7h11v11h-11zM426.67 1530.7h11v11h-11zM431.1 1530.7h11v11h-11zM435.53 1530.7h11v11h-11zM439.96 1530.7h11v11h-11zM444.39 1530.7h11v11h-11zM448.82 1530.7h11v11h-11zM453.25 1530.7h11v11h-11zM457.68 1530.7h11v11h-11zM462.11 1530.7h11v11h-11zM466.54 1530.7h11v11h-11zM470.97 1530.7h11v11h-11zM475.4 1530.7h11v11h-11zM479.83 1530.7h11v11h-11zM484.26 1530.7h11v11h-11zM488.69 1530.7h11v11h-11zM493.12 1598.8h11v11h-11zM497.55 1598.8h11v11h-11zM501.98 1598.8h11v11h-11zM506.41 1598.8h11v11h-11zM510.84 1598.8h11v11h-11zM515.27 1598.8h11v11h-11zM519.7 1598.8h11v11h-11zM524.13 1598.8h11v11h-11zM528.56 1598.8h11v11h-11zM532.99 1598.8h11v11h-11zM537.42 1598.8h11v11h-11zM541.85 1598.8h11v11h-11zM546.28 1598.8h11v11h-11zM550.71 1598.8h11v11h-11zM555.14 1598.8h11v11h-11zM559.57 1598.8h11v11h-11zM564 1598.8h11v11h-11zM568.43 1598.8h11v11h-11zM572.86 1598.8h11v11h-11zM577.29 1598.8h11v11h-11z" fill="#009300"/>
<polyline points="126.5,1400 130.93,1400 135.36,1400 139.79,1400 144.22,1400 148.65,1400 153.08,1400 157.51,1400 161.94,1400 166.37,1400 170.8,1400 175.23,1400 179.66,1400 184.09,1400 188.52,1365.95 192.95,1331.9 197.38,1331.9 201.81,1331.9 206.24,1331.9 210.67,1331.9 215.1,1331.9 219.53,1331.9 223.96,1331.9 228.39,1331.9 232.82,1331.9 237.25,1331.9 241.68,1297.85 246.11,1263.8 250.54,1263.8 254.97,1331.9 259.4,1331.9 263.83,1331.9 268.26,1331.9 272.69,1331.9 277.12,1331.9 281.55,1331.9 285.98,1331.9 290.41,1331.9 294.84,1297.85 299.27,1263.8 303.7,1263.8 308.13,1263.8 312.56,1263.8 316.99,1297.85 321.42,1331.9 325.85,1331.9 330.28,1331.9 334.71,1331.9 339.14,1331.9 343.57,1331.9 348,1297.85 352.43,1263.8 356.86,1263.8 361.29,1263.8 365.72,1263.8 370.15,1263.8 374.58,1297.85 379.01,1297.85 383.44,1331.9 387.87,1331.9 392.3,1331.9 396.73,1297.85 401.16,1263.8 405.59,1263.8 410.02,1263.8 414.45,1263.8 418.88,1263.8 423.31,1263.8 427.74,1263.8 432.17,1263.8 436.6,1263.8 441.03,1263.8 445.46,1263.8 449.89,1263.8 454.32,1263.8 458.75,1263.8 463.18,1263.8 467.61,1263.8 472.04,1263.8 476.47,1263.8 480.9,1263.8 485.33,1263.8 489.76,1263.8 494.19,1263.8 498.62,1195.7 503.05,1195.7 507.48,1195.7 511.91,1195.7 516.34,1195.7 520.77,1195.7 525.2,1195.7 529.63,1195.7 534.06,1195.7 538.49,1195.7 542.92,1195.7 547.35,1195.7 551.78,1195.7 556.21,1195.7 560.64,1195.7 565.07,1195.7 569.5,1195.7 573.93,1195.7 578.36,1195.7 582.79,1195.7" fill="none" stroke="#009300" stroke-width="1.7" stroke-linejoin="round"/>
<g fill="#fff" stroke="#009300" stroke-width="2"><rect x="122" y="1395.5" width="9" height="9"/><rect x="126.43" y="1395.5" width="9" height="9"/><rect x="130.86" y="1395.5" width="9" height="9"/><rect x="135.29" y="1395.5" width="9" height="9"/><rect x="139.72" y="1395.5" width="9" height="9"/><rect x="144.15" y="1395.5" width="9" height="9"/><rect x="148.58" y="1395.5" width="9" height="9"/><rect x="153.01" y="1395.5" width="9" height="9"/><rect x="157.44" y="1395.5" width="9" height="9"/><rect x="161.87" y="1395.5" width="9" height="9"/><rect x="166.3" y="1395.5" width="9" height="9"/><rect x="170.73" y="1395.5" width="9" height="9"/><rect x="175.16" y="1395.5" width="9" height="9"/><rect x="179.59" y="1395.5" width="9" height="9"/><rect x="184.02" y="1361.45" width="9" height="9"/><rect x="188.45" y="1327.4" width="9" height="9"/><rect x="192.88" y="1327.4" width="9" height="9"/><rect x="197.31" y="1327.4" width="9" height="9"/><rect x="201.74" y="1327.4" width="9" height="9"/><rect x="206.17" y="1327.4" width="9" height="9"/><rect x="210.6" y="1327.4" width="9" height="9"/><rect x="215.03" y="1327.4" width="9" height="9"/><rect x="219.46" y="1327.4" width="9" height="9"/><rect x="223.89" y="1327.4" width="9" height="9"/><rect x="228.32" y="1327.4" width="9" height="9"/><rect x="232.75" y="1327.4" width="9" height="9"/><rect x="237.18" y="1293.35" width="9" height="9"/><rect x="241.61" y="1259.3" width="9" height="9"/><rect x="246.04" y="1259.3" width="9" height="9"/><rect x="250.47" y="1327.4" width="9" height="9"/><rect x="254.9" y="1327.4" width="9" height="9"/><rect x="259.33" y="1327.4" width="9" height="9"/><rect x="263.76" y="1327.4" width="9" height="9"/><rect x="268.19" y="1327.4" width="9" height="9"/><rect x="272.62" y="1327.4" width="9" height="9"/><rect x="277.05" y="1327.4" width="9" height="9"/><rect x="281.48" y="1327.4" width="9" height="9"/><rect x="285.91" y="1327.4" width="9" height="9"/><rect x="290.34" y="1293.35" width="9" height="9"/><rect x="294.77" y="1259.3" width="9" height="9"/><rect x="299.2" y="1259.3" width="9" height="9"/><rect x="303.63" y="1259.3" width="9" height="9"/><rect x="308.06" y="1259.3" width="9" height="9"/><rect x="312.49" y="1293.35" width="9" height="9"/><rect x="316.92" y="1327.4" width="9" height="9"/><rect x="321.35" y="1327.4" width="9" height="9"/><rect x="325.78" y="1327.4" width="9" height="9"/><rect x="330.21" y="1327.4" width="9" height="9"/><rect x="334.64" y="1327.4" width="9" height="9"/><rect x="339.07" y="1327.4" width="9" height="9"/><rect x="343.5" y="1293.35" width="9" height="9"/><rect x="347.93" y="1259.3" width="9" height="9"/><rect x="352.36" y="1259.3" width="9" height="9"/><rect x="356.79" y="1259.3" width="9" height="9"/><rect x="361.22" y="1259.3" width="9" height="9"/><rect x="365.65" y="1259.3" width="9" height="9"/><rect x="370.08" y="1293.35" width="9" height="9"/><rect x="374.51" y="1293.35" width="9" height="9"/><rect x="378.94" y="1327.4" width="9" height="9"/><rect x="383.37" y="1327.4" width="9" height="9"/><rect x="387.8" y="1327.4" width="9" height="9"/><rect x="392.23" y="1293.35" width="9" height="9"/><rect x="396.66" y="1259.3" width="9" height="9"/><rect x="401.09" y="1259.3" width="9" height="9"/><rect x="405.52" y="1259.3" width="9" height="9"/><rect x="409.95" y="1259.3" width="9" height="9"/><rect x="414.38" y="1259.3" width="9" height="9"/><rect x="418.81" y="1259.3" width="9" height="9"/><rect x="423.24" y="1259.3" width="9" height="9"/><rect x="427.67" y="1259.3" width="9" height="9"/><rect x="432.1" y="1259.3" width="9" height="9"/><rect x="436.53" y="1259.3" width="9" height="9"/><rect x="440.96" y="1259.3" width="9" height="9"/><rect x="445.39" y="1259.3" width="9" height="9"/><rect x="449.82" y="1259.3" width="9" height="9"/><rect x="454.25" y="1259.3" width="9" height="9"/><rect x="458.68" y="1259.3" width="9" height="9"/><rect x="463.11" y="1259.3" width="9" height="9"/><rect x="467.54" y="1259.3" width="9" height="9"/><rect x="471.97" y="1259.3" width="9" height="9"/><rect x="476.4" y="1259.3" width="9" height="9"/><rect x="480.83" y="1259.3" width="9" height="9"/><rect x="485.26" y="1259.3" width="9" height="9"/><rect x="489.69" y="1259.3" width="9" height="9"/><rect x="494.12" y="1191.2" width="9" height="9"/><rect x="498.55" y="1191.2" width="9" height="9"/><rect x="502.98" y="1191.2" width="9" height="9"/><rect x="507.41" y="1191.2" width="9" height="9"/><rect x="511.84" y="1191.2" width="9" height="9"/><rect x="516.27" y="1191.2" width="9" height="9"/><rect x="520.7" y="1191.2" width="9" height="9"/><rect x="525.13" y="1191.2" width="9" height="9"/><rect x="529.56" y="1191.2" width="9" height="9"/><rect x="533.99" y="1191.2" width="9" height="9"/><rect x="538.42" y="1191.2" width="9" height="9"/><rect x="542.85" y="1191.2" width="9" height="9"/><rect x="547.28" y="1191.2" width="9" height="9"/><rect x="551.71" y="1191.2" width="9" height="9"/><rect x="556.14" y="1191.2" width="9" height="9"/><rect x="560.57" y="1191.2" width="9" height="9"/><rect x="565" y="1191.2" width="9" height="9"/><rect x="569.43" y="1191.2" width="9" height="9"/><rect x="573.86" y="1191.2" width="9" height="9"/><rect x="578.29" y="1191.2" width="9" height="9"/></g>
</g>
<g clip-path="url(#cc2)">
<polyline points="569.69,1604.3 574.12,1604.3 578.55,1604.3 582.98,1604.3 587.41,1604.3 591.84,1604.3 596.27,1604.3 600.7,1604.3 605.13,1604.3 609.56,1604.3 613.99,1604.3 618.42,1604.3 622.85,1604.3 627.28,1604.3 631.71,1604.3 636.14,1604.3 640.57,1604.3 645,1604.3 649.43,1604.3 653.86,1604.3 658.29,1604.3 662.72,1604.3 667.15,1604.3 671.58,1604.3 676.01,1604.3" fill="none" stroke="#009300" stroke-width="1.7" stroke-linejoin="round"/>
<path d="M564.19 1598.8h11v11h-11zM568.62 1598.8h11v11h-11zM573.05 1598.8h11v11h-11zM577.48 1598.8h11v11h-11zM581.91 1598.8h11v11h-11zM586.34 1598.8h11v11h-11zM590.77 1598.8h11v11h-11zM595.2 1598.8h11v11h-11zM599.63 1598.8h11v11h-11zM604.06 1598.8h11v11h-11zM608.49 1598.8h11v11h-11zM612.92 1598.8h11v11h-11zM617.35 1598.8h11v11h-11zM621.78 1598.8h11v11h-11zM626.21 1598.8h11v11h-11zM630.64 1598.8h11v11h-11zM635.07 1598.8h11v11h-11zM639.5 1598.8h11v11h-11zM643.93 1598.8h11v11h-11zM648.36 1598.8h11v11h-11zM652.79 1598.8h11v11h-11zM657.22 1598.8h11v11h-11zM661.65 1598.8h11v11h-11zM666.08 1598.8h11v11h-11zM670.51 1598.8h11v11h-11z" fill="#009300"/>
<polyline points="569.69,1195.7 574.12,1195.7 578.55,1195.7 582.98,1195.7 587.41,1195.7 591.84,1195.7 596.27,1195.7 600.7,1195.7 605.13,1195.7 609.56,1195.7 613.99,1195.7 618.42,1195.7 622.85,1195.7 627.28,1195.7 631.71,1195.7 636.14,1195.7 640.57,1195.7 645,1195.7 649.43,1195.7 653.86,1195.7 658.29,1195.7 662.72,1195.7 667.15,1195.7 671.58,1195.7 676.01,1195.7" fill="none" stroke="#009300" stroke-width="1.7" stroke-linejoin="round"/>
<g fill="#fff" stroke="#009300" stroke-width="2"><rect x="565.19" y="1191.2" width="9" height="9"/><rect x="569.62" y="1191.2" width="9" height="9"/><rect x="574.05" y="1191.2" width="9" height="9"/><rect x="578.48" y="1191.2" width="9" height="9"/><rect x="582.91" y="1191.2" width="9" height="9"/><rect x="587.34" y="1191.2" width="9" height="9"/><rect x="591.77" y="1191.2" width="9" height="9"/><rect x="596.2" y="1191.2" width="9" height="9"/><rect x="600.63" y="1191.2" width="9" height="9"/><rect x="605.06" y="1191.2" width="9" height="9"/><rect x="609.49" y="1191.2" width="9" height="9"/><rect x="613.92" y="1191.2" width="9" height="9"/><rect x="618.35" y="1191.2" width="9" height="9"/><rect x="622.78" y="1191.2" width="9" height="9"/><rect x="627.21" y="1191.2" width="9" height="9"/><rect x="631.64" y="1191.2" width="9" height="9"/><rect x="636.07" y="1191.2" width="9" height="9"/><rect x="640.5" y="1191.2" width="9" height="9"/><rect x="644.93" y="1191.2" width="9" height="9"/><rect x="649.36" y="1191.2" width="9" height="9"/><rect x="653.79" y="1191.2" width="9" height="9"/><rect x="658.22" y="1191.2" width="9" height="9"/><rect x="662.65" y="1191.2" width="9" height="9"/><rect x="667.08" y="1191.2" width="9" height="9"/><rect x="671.51" y="1191.2" width="9" height="9"/></g>
</g>
<g font-family='"Liberation Sans", Arial, Helvetica, sans-serif' font-weight="bold" font-size="38" fill="#000">
<g text-anchor="middle">
<text transform="translate(126.5 1649.4) scale(1 1.045)">0</text>
<text transform="translate(215.1 1649.4) scale(1 1.045)">4</text>
<text transform="translate(303.7 1649.4) scale(1 1.045)">8</text>
<text transform="translate(392.3 1649.4) scale(1 1.045)">12</text>
<text transform="translate(480.9 1649.4) scale(1 1.045)">16</text>
<text transform="translate(645 1649.4) scale(1 1.045)">200</text>
</g><g text-anchor="end">
<text transform="translate(107.5 1207.6) scale(1 1.045)">3</text>
<text transform="translate(107.5 1275.7) scale(1 1.045)">2</text>
<text transform="translate(107.5 1343.8) scale(1 1.045)">1</text>
<text transform="translate(107.5 1411.9) scale(1 1.045)">0</text>
<text transform="translate(107.5 1480) scale(1 1.045)">-1</text>
<text transform="translate(107.5 1548.1) scale(1 1.045)">-2</text>
<text transform="translate(107.5 1616.2) scale(1 1.045)">-3</text>
</g></g>
<text x="400" y="1705" text-anchor="middle" font-family='"Liberation Sans", Arial, Helvetica, sans-serif' font-weight="bold" font-size="40.6" fill="#000">Time (ps)</text>
<text transform="translate(57.4 1439.7) rotate(-90)" font-family='"Liberation Serif", "Times New Roman", Times, serif' font-weight="bold" font-size="41.5" fill="#000">Q<tspan font-size="28.5" dy="8">A,B</tspan></text>
<text x="476.3" y="1309.9" font-family='"Liberation Sans", Arial, Helvetica, sans-serif' font-weight="bold" font-size="33.5" fill="#000"><tspan font-family='"Liberation Serif", "Times New Roman", Times, serif' font-weight="normal" font-size="35" stroke="#000" stroke-width="0.7">τ</tspan><tspan font-size="23.5" dy="8.8">w</tspan><tspan dy="-8.8"> = 12.8 ps</tspan></text>
<text transform="translate(18.82 1226.51) scale(0.8378 0.9872)" font-family='"Liberation Sans", Arial, Helvetica, sans-serif' font-weight="bold" font-size="50" fill="#000">c</text>
</g>
<g id="panel-d">
<g transform="translate(0 0) scale(1)">
<rect x="836.9" y="13.1" width="409.8" height="407.6" fill="#262626"/>
<path d="M836.95 8.6h5.8v5h-5.8zM836.95 420.2h5.8v5.3h-5.8zM832.7 13.05h4.7v5.8h-4.7zM1246.2 13.05h4.7v5.8h-4.7zM937.49 8.6h5.8v5h-5.8zM937.49 420.2h5.8v5.3h-5.8zM832.7 113.31h4.7v5.8h-4.7zM1246.2 113.31h4.7v5.8h-4.7zM1038.03 8.6h5.8v5h-5.8zM1038.03 420.2h5.8v5.3h-5.8zM832.7 213.57h4.7v5.8h-4.7zM1246.2 213.57h4.7v5.8h-4.7zM1138.57 8.6h5.8v5h-5.8zM1138.57 420.2h5.8v5.3h-5.8zM832.7 313.83h4.7v5.8h-4.7zM1246.2 313.83h4.7v5.8h-4.7zM1239.11 8.6h5.8v5h-5.8zM1239.11 420.2h5.8v5.3h-5.8zM832.7 414.09h4.7v5.8h-4.7zM1246.2 414.09h4.7v5.8h-4.7z" fill="#262626"/>
<g font-family='"Liberation Serif", "Times New Roman", Times, serif' font-weight="bold" font-size="38" fill="#262626">
<g text-anchor="middle">
<text x="839.85" y="469.1">0</text>
<text x="940.39" y="469.1">50</text>
<text x="1040.93" y="469.1">100</text>
<text x="1141.47" y="469.1">150</text>
<text x="1242.01" y="469.1">200</text>
</g><g text-anchor="end">
<text x="824" y="29.25">200</text>
<text x="824" y="129.51">150</text>
<text x="824" y="229.77">100</text>
<text x="824" y="330.03">50</text>
<text x="824" y="430.29">0</text>
</g></g>
<text x="1043" y="517.2" text-anchor="middle" font-family='"Liberation Serif", "Times New Roman", Times, serif' font-weight="bold" font-size="41.5" fill="#262626">x (nm)</text>
<text transform="translate(752.6 217.1) rotate(-90)" text-anchor="middle" font-family='"Liberation Serif", "Times New Roman", Times, serif' font-weight="bold" font-size="41.5" fill="#262626">y (nm)</text>
<rect x="1283.7" y="15.3" width="28.8" height="401.6" fill="url(#hotg)" stroke="#555" stroke-width="0.8"/>
<path d="M1312.5 115.7h-3.5M1312.5 216.1h-3.5M1312.5 316.5h-3.5" stroke="#262626" stroke-width="1" fill="none"/>
<g font-family='"Liberation Serif", "Times New Roman", Times, serif' font-weight="bold" font-size="34.5" fill="#262626">
<text x="1322.2" y="27.6">1</text>
<text x="1322.2" y="128">0.5</text>
<text x="1322.2" y="228.4">0</text>
<text x="1322.2" y="328.8">-0.5</text>
<text x="1322.2" y="429.2">-1</text>
</g>
<text transform="translate(1416 236.6) rotate(-90)" font-family='"Liberation Serif", "Times New Roman", Times, serif' font-weight="bold" font-size="35" fill="#262626">m<tspan font-size="28" dy="17">z</tspan></text>
</g>
<g clip-path="url(#cid)">
<rect x="842" y="15.35" width="399.8" height="399.95" fill="#fff"/>
<use href="#rg145_190" transform="translate(1045.3 207.8) scale(51.6 52.2)" fill="#fffff9"/><use href="#rg145_190" transform="translate(1045.3 207.8) scale(50.6 51.2)" fill="#fffff6"/><use href="#rg145_190" transform="translate(1045.3 207.8) scale(49.6 50.2)" fill="#fffff2"/><use href="#rg145_190" transform="translate(1045.3 207.8) scale(48.6 49.2)" fill="#ffffed"/><use href="#rg145_190" transform="translate(1045.3 207.8) scale(47.6 48.2)" fill="#ffffe6"/><use href="#rg145_190" transform="translate(1045.3 207.8) scale(46.6 47.2)" fill="#ffffdc"/><use href="#rg145_190" transform="translate(1045.3 207.8) scale(45.6 46.2)" fill="#ffffce"/><use href="#rg145_190" transform="translate(1045.3 207.8) scale(44.6 45.2)" fill="#ffffbb"/><use href="#rg145_190" transform="translate(1045.3 207.8) scale(43.6 44.2)" fill="#ffffa0"/><use href="#rg145_190" transform="translate(1045.3 207.8) scale(42.6 43.2)" fill="#ffff7e"/><use href="#rg145_190" transform="translate(1045.3 207.8) scale(41.6 42.2)" fill="#ffff51"/><use href="#rg145_190" transform="translate(1045.3 207.8) scale(40.6 41.2)" fill="#ffff18"/><use href="#rg145_190" transform="translate(1045.3 207.8) scale(39.6 40.2)" fill="#ffe100"/><use href="#rg145_190" transform="translate(1045.3 207.8) scale(38.6 39.2)" fill="#ffac00"/><use href="#rg145_190" transform="translate(1045.3 207.8) scale(37.6 38.2)" fill="#ff7300"/><use href="#rg145_190" transform="translate(1045.3 207.8) scale(36.6 37.2)" fill="#ff3700"/><use href="#rg145_190" transform="translate(1045.3 207.8) scale(35.6 36.2)" fill="#fd0000"/><use href="#rg145_190" transform="translate(1045.3 207.8) scale(34.6 35.2)" fill="#c80000"/><use href="#rg145_190" transform="translate(1045.3 207.8) scale(33.6 34.2)" fill="#9a0000"/><use href="#rg145_190" transform="translate(1045.3 207.8) scale(32.6 33.2)" fill="#740000"/><use href="#rg145_190" transform="translate(1045.3 207.8) scale(31.6 32.2)" fill="#560000"/><use href="#rg145_190" transform="translate(1045.3 207.8) scale(30.6 31.2)" fill="#3f0000"/><use href="#rg145_190" transform="translate(1045.3 207.8) scale(29.6 30.2)" fill="#2e0000"/><use href="#rg145_190" transform="translate(1045.3 207.8) scale(28.6 29.2)" fill="#210000"/><use href="#rg145_190" transform="translate(1045.3 207.8) scale(27.6 28.2)" fill="#170000"/><use href="#rg145_190" transform="translate(1045.3 207.8) scale(26.6 27.2)" fill="#110000"/><use href="#rg145_190" transform="translate(1045.3 207.8) scale(25.6 26.2)" fill="#0c0000"/><use href="#rg145_190" transform="translate(1045.3 207.8) scale(24.6 25.2)" fill="#080000"/><use href="#rg145_190" transform="translate(1045.3 207.8) scale(23.6 24.2)" fill="#060000"/><use href="#rg145_190" transform="translate(1045.3 207.8) scale(22.6 23.2)" fill="#040000"/><use href="#rg145_190" transform="translate(1045.3 207.8) scale(21.6 22.2)" fill="#000000"/>
<g mask="url(#mB)"><rect x="842" y="15.35" width="399.8" height="399.95" fill="#000"/>
<use href="#rg145_190" transform="translate(1045.3 207.8) scale(51.6 52.2)" fill="#040000"/><use href="#rg145_190" transform="translate(1045.3 207.8) scale(50.6 51.2)" fill="#060000"/><use href="#rg145_190" transform="translate(1045.3 207.8) scale(49.6 50.2)" fill="#080000"/><use href="#rg145_190" transform="translate(1045.3 207.8) scale(48.6 49.2)" fill="#0c0000"/><use href="#rg145_190" transform="translate(1045.3 207.8) scale(47.6 48.2)" fill="#110000"/><use href="#rg145_190" transform="translate(1045.3 207.8) scale(46.6 47.2)" fill="#170000"/><use href="#rg145_190" transform="translate(1045.3 207.8) scale(45.6 46.2)" fill="#210000"/><use href="#rg145_190" transform="translate(1045.3 207.8) scale(44.6 45.2)" fill="#2e0000"/><use href="#rg145_190" transform="translate(1045.3 207.8) scale(43.6 44.2)" fill="#3f0000"/><use href="#rg145_190" transform="translate(1045.3 207.8) scale(42.6 43.2)" fill="#560000"/><use href="#rg145_190" transform="translate(1045.3 207.8) scale(41.6 42.2)" fill="#740000"/><use href="#rg145_190" transform="translate(1045.3 207.8) scale(40.6 41.2)" fill="#9a0000"/><use href="#rg145_190" transform="translate(1045.3 207.8) scale(39.6 40.2)" fill="#c80000"/><use href="#rg145_190" transform="translate(1045.3 207.8) scale(38.6 39.2)" fill="#fd0000"/><use href="#rg145_190" transform="translate(1045.3 207.8) scale(37.6 38.2)" fill="#ff3700"/><use href="#rg145_190" transform="translate(1045.3 207.8) scale(36.6 37.2)" fill="#ff7300"/><use href="#rg145_190" transform="translate(1045.3 207.8) scale(35.6 36.2)" fill="#ffac00"/><use href="#rg145_190" transform="translate(1045.3 207.8) scale(34.6 35.2)" fill="#ffe100"/><use href="#rg145_190" transform="translate(1045.3 207.8) scale(33.6 34.2)" fill="#ffff18"/><use href="#rg145_190" transform="translate(1045.3 207.8) scale(32.6 33.2)" fill="#ffff51"/><use href="#rg145_190" transform="translate(1045.3 207.8) scale(31.6 32.2)" fill="#ffff7e"/><use href="#rg145_190" transform="translate(1045.3 207.8) scale(30.6 31.2)" fill="#ffffa0"/><use href="#rg145_190" transform="translate(1045.3 207.8) scale(29.6 30.2)" fill="#ffffbb"/><use href="#rg145_190" transform="translate(1045.3 207.8) scale(28.6 29.2)" fill="#ffffce"/><use href="#rg145_190" transform="translate(1045.3 207.8) scale(27.6 28.2)" fill="#ffffdc"/><use href="#rg145_190" transform="translate(1045.3 207.8) scale(26.6 27.2)" fill="#ffffe6"/><use href="#rg145_190" transform="translate(1045.3 207.8) scale(25.6 26.2)" fill="#ffffed"/><use href="#rg145_190" transform="translate(1045.3 207.8) scale(24.6 25.2)" fill="#fffff2"/><use href="#rg145_190" transform="translate(1045.3 207.8) scale(23.6 24.2)" fill="#fffff6"/><use href="#rg145_190" transform="translate(1045.3 207.8) scale(22.6 23.2)" fill="#fffff9"/><use href="#rg145_190" transform="translate(1045.3 207.8) scale(21.6 22.2)" fill="#ffffff"/>
</g></g>
<text transform="translate(717.35 62.09) scale(0.9743 1.0259)" font-family='"Liberation Sans", Arial, Helvetica, sans-serif' font-weight="bold" font-size="50" fill="#000">d</text>
</g>
<g id="panel-e">
<g transform="translate(14.7 595.5) scale(1)">
<rect x="836.9" y="13.1" width="409.8" height="407.6" fill="#262626"/>
<path d="M836.95 8.6h5.8v5h-5.8zM836.95 420.2h5.8v5.3h-5.8zM832.7 13.05h4.7v5.8h-4.7zM1246.2 13.05h4.7v5.8h-4.7zM937.49 8.6h5.8v5h-5.8zM937.49 420.2h5.8v5.3h-5.8zM832.7 113.31h4.7v5.8h-4.7zM1246.2 113.31h4.7v5.8h-4.7zM1038.03 8.6h5.8v5h-5.8zM1038.03 420.2h5.8v5.3h-5.8zM832.7 213.57h4.7v5.8h-4.7zM1246.2 213.57h4.7v5.8h-4.7zM1138.57 8.6h5.8v5h-5.8zM1138.57 420.2h5.8v5.3h-5.8zM832.7 313.83h4.7v5.8h-4.7zM1246.2 313.83h4.7v5.8h-4.7zM1239.11 8.6h5.8v5h-5.8zM1239.11 420.2h5.8v5.3h-5.8zM832.7 414.09h4.7v5.8h-4.7zM1246.2 414.09h4.7v5.8h-4.7z" fill="#262626"/>
<g font-family='"Liberation Serif", "Times New Roman", Times, serif' font-weight="bold" font-size="38" fill="#262626">
<g text-anchor="middle">
<text x="839.85" y="469.1">0</text>
<text x="940.39" y="469.1">50</text>
<text x="1040.93" y="469.1">100</text>
<text x="1141.47" y="469.1">150</text>
<text x="1242.01" y="469.1">200</text>
</g><g text-anchor="end">
<text x="824" y="29.25">200</text>
<text x="824" y="129.51">150</text>
<text x="824" y="229.77">100</text>
<text x="824" y="330.03">50</text>
<text x="824" y="430.29">0</text>
</g></g>
<text x="1043" y="517.2" text-anchor="middle" font-family='"Liberation Serif", "Times New Roman", Times, serif' font-weight="bold" font-size="41.5" fill="#262626">x (nm)</text>
<text transform="translate(752.6 217.1) rotate(-90)" text-anchor="middle" font-family='"Liberation Serif", "Times New Roman", Times, serif' font-weight="bold" font-size="41.5" fill="#262626">y (nm)</text>
<rect x="1283.7" y="15.3" width="28.8" height="401.6" fill="url(#hotg)" stroke="#555" stroke-width="0.8"/>
<path d="M1312.5 115.7h-3.5M1312.5 216.1h-3.5M1312.5 316.5h-3.5" stroke="#262626" stroke-width="1" fill="none"/>
<g font-family='"Liberation Serif", "Times New Roman", Times, serif' font-weight="bold" font-size="34.5" fill="#262626">
<text x="1322.2" y="27.6">1</text>
<text x="1322.2" y="128">0.5</text>
<text x="1322.2" y="228.4">0</text>
<text x="1322.2" y="328.8">-0.5</text>
<text x="1322.2" y="429.2">-1</text>
</g>
<text transform="translate(1416 236.6) rotate(-90)" font-family='"Liberation Serif", "Times New Roman", Times, serif' font-weight="bold" font-size="35" fill="#262626">m<tspan font-size="28" dy="17">z</tspan></text>
</g>
<g clip-path="url(#cie)">
<rect x="856.7" y="610.85" width="399.8" height="399.95" fill="#fff"/>
<use href="#rg160_195" transform="translate(1059.3 785.2) scale(48.8 48)" fill="#fffff9"/><use href="#rg160_195" transform="translate(1059.3 785.2) scale(47.8 47)" fill="#fffff6"/><use href="#rg160_195" transform="translate(1059.3 785.2) scale(46.8 46)" fill="#fffff2"/><use href="#rg160_195" transform="translate(1059.3 785.2) scale(45.8 45)" fill="#ffffed"/><use href="#rg160_195" transform="translate(1059.3 785.2) scale(44.8 44)" fill="#ffffe6"/><use href="#rg160_195" transform="translate(1059.3 785.2) scale(43.8 43)" fill="#ffffdc"/><use href="#rg160_195" transform="translate(1059.3 785.2) scale(42.8 42)" fill="#ffffce"/><use href="#rg160_195" transform="translate(1059.3 785.2) scale(41.8 41)" fill="#ffffbb"/><use href="#rg160_195" transform="translate(1059.3 785.2) scale(40.8 40)" fill="#ffffa0"/><use href="#rg160_195" transform="translate(1059.3 785.2) scale(39.8 39)" fill="#ffff7e"/><use href="#rg160_195" transform="translate(1059.3 785.2) scale(38.8 38)" fill="#ffff51"/><use href="#rg160_195" transform="translate(1059.3 785.2) scale(37.8 37)" fill="#ffff18"/><use href="#rg160_195" transform="translate(1059.3 785.2) scale(36.8 36)" fill="#ffe100"/><use href="#rg160_195" transform="translate(1059.3 785.2) scale(35.8 35)" fill="#ffac00"/><use href="#rg160_195" transform="translate(1059.3 785.2) scale(34.8 34)" fill="#ff7300"/><use href="#rg160_195" transform="translate(1059.3 785.2) scale(33.8 33)" fill="#ff3700"/><use href="#rg160_195" transform="translate(1059.3 785.2) scale(32.8 32)" fill="#fd0000"/><use href="#rg160_195" transform="translate(1059.3 785.2) scale(31.8 31)" fill="#c80000"/><use href="#rg160_195" transform="translate(1059.3 785.2) scale(30.8 30)" fill="#9a0000"/><use href="#rg160_195" transform="translate(1059.3 785.2) scale(29.8 29)" fill="#740000"/><use href="#rg160_195" transform="translate(1059.3 785.2) scale(28.8 28)" fill="#560000"/><use href="#rg160_195" transform="translate(1059.3 785.2) scale(27.8 27)" fill="#3f0000"/><use href="#rg160_195" transform="translate(1059.3 785.2) scale(26.8 26)" fill="#2e0000"/><use href="#rg160_195" transform="translate(1059.3 785.2) scale(25.8 25)" fill="#210000"/><use href="#rg160_195" transform="translate(1059.3 785.2) scale(24.8 24)" fill="#170000"/><use href="#rg160_195" transform="translate(1059.3 785.2) scale(23.8 23)" fill="#110000"/><use href="#rg160_195" transform="translate(1059.3 785.2) scale(22.8 22)" fill="#0c0000"/><use href="#rg160_195" transform="translate(1059.3 785.2) scale(21.8 21)" fill="#080000"/><use href="#rg160_195" transform="translate(1059.3 785.2) scale(20.8 20)" fill="#060000"/><use href="#rg160_195" transform="translate(1059.3 785.2) scale(19.8 19)" fill="#040000"/><use href="#rg160_195" transform="translate(1059.3 785.2) scale(18.8 18)" fill="#000000"/><use href="#rg145_185" transform="translate(1059.2 889.8) scale(44.4 44.2)" fill="#fffff9"/><use href="#rg145_185" transform="translate(1059.2 889.8) scale(43.4 43.2)" fill="#fffff6"/><use href="#rg145_185" transform="translate(1059.2 889.8) scale(42.4 42.2)" fill="#fffff2"/><use href="#rg145_185" transform="translate(1059.2 889.8) scale(41.4 41.2)" fill="#ffffed"/><use href="#rg145_185" transform="translate(1059.2 889.8) scale(40.4 40.2)" fill="#ffffe6"/><use href="#rg145_185" transform="translate(1059.2 889.8) scale(39.4 39.2)" fill="#ffffdc"/><use href="#rg145_185" transform="translate(1059.2 889.8) scale(38.4 38.2)" fill="#ffffce"/><use href="#rg145_185" transform="translate(1059.2 889.8) scale(37.4 37.2)" fill="#ffffbb"/><use href="#rg145_185" transform="translate(1059.2 889.8) scale(36.4 36.2)" fill="#ffffa0"/><use href="#rg145_185" transform="translate(1059.2 889.8) scale(35.4 35.2)" fill="#ffff7e"/><use href="#rg145_185" transform="translate(1059.2 889.8) scale(34.4 34.2)" fill="#ffff51"/><use href="#rg145_185" transform="translate(1059.2 889.8) scale(33.4 33.2)" fill="#ffff18"/><use href="#rg145_185" transform="translate(1059.2 889.8) scale(32.4 32.2)" fill="#ffe100"/><use href="#rg145_185" transform="translate(1059.2 889.8) scale(31.4 31.2)" fill="#ffac00"/><use href="#rg145_185" transform="translate(1059.2 889.8) scale(30.4 30.2)" fill="#ff7300"/><use href="#rg145_185" transform="translate(1059.2 889.8) scale(29.4 29.2)" fill="#ff3700"/><use href="#rg145_185" transform="translate(1059.2 889.8) scale(28.4 28.2)" fill="#fd0000"/><use href="#rg145_185" transform="translate(1059.2 889.8) scale(27.4 27.2)" fill="#c80000"/><use href="#rg145_185" transform="translate(1059.2 889.8) scale(26.4 26.2)" fill="#9a0000"/><use href="#rg145_185" transform="translate(1059.2 889.8) scale(25.4 25.2)" fill="#740000"/><use href="#rg145_185" transform="translate(1059.2 889.8) scale(24.4 24.2)" fill="#560000"/><use href="#rg145_185" transform="translate(1059.2 889.8) scale(23.4 23.2)" fill="#3f0000"/><use href="#rg145_185" transform="translate(1059.2 889.8) scale(22.4 22.2)" fill="#2e0000"/><use href="#rg145_185" transform="translate(1059.2 889.8) scale(21.4 21.2)" fill="#210000"/><use href="#rg145_185" transform="translate(1059.2 889.8) scale(20.4 20.2)" fill="#170000"/><use href="#rg145_185" transform="translate(1059.2 889.8) scale(19.4 19.2)" fill="#110000"/><use href="#rg145_185" transform="translate(1059.2 889.8) scale(18.4 18.2)" fill="#0c0000"/><use href="#rg145_185" transform="translate(1059.2 889.8) scale(17.4 17.2)" fill="#080000"/><use href="#rg145_185" transform="translate(1059.2 889.8) scale(16.4 16.2)" fill="#060000"/><use href="#rg145_185" transform="translate(1059.2 889.8) scale(15.4 15.2)" fill="#040000"/><use href="#rg145_185" transform="translate(1059.2 889.8) scale(14.4 14.2)" fill="#000000"/>
<g mask="url(#mB)"><rect x="856.7" y="610.85" width="399.8" height="399.95" fill="#000"/>
<use href="#rg160_195" transform="translate(1059.3 785.2) scale(48.8 48)" fill="#040000"/><use href="#rg160_195" transform="translate(1059.3 785.2) scale(47.8 47)" fill="#060000"/><use href="#rg160_195" transform="translate(1059.3 785.2) scale(46.8 46)" fill="#080000"/><use href="#rg160_195" transform="translate(1059.3 785.2) scale(45.8 45)" fill="#0c0000"/><use href="#rg160_195" transform="translate(1059.3 785.2) scale(44.8 44)" fill="#110000"/><use href="#rg160_195" transform="translate(1059.3 785.2) scale(43.8 43)" fill="#170000"/><use href="#rg160_195" transform="translate(1059.3 785.2) scale(42.8 42)" fill="#210000"/><use href="#rg160_195" transform="translate(1059.3 785.2) scale(41.8 41)" fill="#2e0000"/><use href="#rg160_195" transform="translate(1059.3 785.2) scale(40.8 40)" fill="#3f0000"/><use href="#rg160_195" transform="translate(1059.3 785.2) scale(39.8 39)" fill="#560000"/><use href="#rg160_195" transform="translate(1059.3 785.2) scale(38.8 38)" fill="#740000"/><use href="#rg160_195" transform="translate(1059.3 785.2) scale(37.8 37)" fill="#9a0000"/><use href="#rg160_195" transform="translate(1059.3 785.2) scale(36.8 36)" fill="#c80000"/><use href="#rg160_195" transform="translate(1059.3 785.2) scale(35.8 35)" fill="#fd0000"/><use href="#rg160_195" transform="translate(1059.3 785.2) scale(34.8 34)" fill="#ff3700"/><use href="#rg160_195" transform="translate(1059.3 785.2) scale(33.8 33)" fill="#ff7300"/><use href="#rg160_195" transform="translate(1059.3 785.2) scale(32.8 32)" fill="#ffac00"/><use href="#rg160_195" transform="translate(1059.3 785.2) scale(31.8 31)" fill="#ffe100"/><use href="#rg160_195" transform="translate(1059.3 785.2) scale(30.8 30)" fill="#ffff18"/><use href="#rg160_195" transform="translate(1059.3 785.2) scale(29.8 29)" fill="#ffff51"/><use href="#rg160_195" transform="translate(1059.3 785.2) scale(28.8 28)" fill="#ffff7e"/><use href="#rg160_195" transform="translate(1059.3 785.2) scale(27.8 27)" fill="#ffffa0"/><use href="#rg160_195" transform="translate(1059.3 785.2) scale(26.8 26)" fill="#ffffbb"/><use href="#rg160_195" transform="translate(1059.3 785.2) scale(25.8 25)" fill="#ffffce"/><use href="#rg160_195" transform="translate(1059.3 785.2) scale(24.8 24)" fill="#ffffdc"/><use href="#rg160_195" transform="translate(1059.3 785.2) scale(23.8 23)" fill="#ffffe6"/><use href="#rg160_195" transform="translate(1059.3 785.2) scale(22.8 22)" fill="#ffffed"/><use href="#rg160_195" transform="translate(1059.3 785.2) scale(21.8 21)" fill="#fffff2"/><use href="#rg160_195" transform="translate(1059.3 785.2) scale(20.8 20)" fill="#fffff6"/><use href="#rg160_195" transform="translate(1059.3 785.2) scale(19.8 19)" fill="#fffff9"/><use href="#rg160_195" transform="translate(1059.3 785.2) scale(18.8 18)" fill="#ffffff"/><use href="#rg145_185" transform="translate(1059.2 889.8) scale(44.4 44.2)" fill="#040000"/><use href="#rg145_185" transform="translate(1059.2 889.8) scale(43.4 43.2)" fill="#060000"/><use href="#rg145_185" transform="translate(1059.2 889.8) scale(42.4 42.2)" fill="#080000"/><use href="#rg145_185" transform="translate(1059.2 889.8) scale(41.4 41.2)" fill="#0c0000"/><use href="#rg145_185" transform="translate(1059.2 889.8) scale(40.4 40.2)" fill="#110000"/><use href="#rg145_185" transform="translate(1059.2 889.8) scale(39.4 39.2)" fill="#170000"/><use href="#rg145_185" transform="translate(1059.2 889.8) scale(38.4 38.2)" fill="#210000"/><use href="#rg145_185" transform="translate(1059.2 889.8) scale(37.4 37.2)" fill="#2e0000"/><use href="#rg145_185" transform="translate(1059.2 889.8) scale(36.4 36.2)" fill="#3f0000"/><use href="#rg145_185" transform="translate(1059.2 889.8) scale(35.4 35.2)" fill="#560000"/><use href="#rg145_185" transform="translate(1059.2 889.8) scale(34.4 34.2)" fill="#740000"/><use href="#rg145_185" transform="translate(1059.2 889.8) scale(33.4 33.2)" fill="#9a0000"/><use href="#rg145_185" transform="translate(1059.2 889.8) scale(32.4 32.2)" fill="#c80000"/><use href="#rg145_185" transform="translate(1059.2 889.8) scale(31.4 31.2)" fill="#fd0000"/><use href="#rg145_185" transform="translate(1059.2 889.8) scale(30.4 30.2)" fill="#ff3700"/><use href="#rg145_185" transform="translate(1059.2 889.8) scale(29.4 29.2)" fill="#ff7300"/><use href="#rg145_185" transform="translate(1059.2 889.8) scale(28.4 28.2)" fill="#ffac00"/><use href="#rg145_185" transform="translate(1059.2 889.8) scale(27.4 27.2)" fill="#ffe100"/><use href="#rg145_185" transform="translate(1059.2 889.8) scale(26.4 26.2)" fill="#ffff18"/><use href="#rg145_185" transform="translate(1059.2 889.8) scale(25.4 25.2)" fill="#ffff51"/><use href="#rg145_185" transform="translate(1059.2 889.8) scale(24.4 24.2)" fill="#ffff7e"/><use href="#rg145_185" transform="translate(1059.2 889.8) scale(23.4 23.2)" fill="#ffffa0"/><use href="#rg145_185" transform="translate(1059.2 889.8) scale(22.4 22.2)" fill="#ffffbb"/><use href="#rg145_185" transform="translate(1059.2 889.8) scale(21.4 21.2)" fill="#ffffce"/><use href="#rg145_185" transform="translate(1059.2 889.8) scale(20.4 20.2)" fill="#ffffdc"/><use href="#rg145_185" transform="translate(1059.2 889.8) scale(19.4 19.2)" fill="#ffffe6"/><use href="#rg145_185" transform="translate(1059.2 889.8) scale(18.4 18.2)" fill="#ffffed"/><use href="#rg145_185" transform="translate(1059.2 889.8) scale(17.4 17.2)" fill="#fffff2"/><use href="#rg145_185" transform="translate(1059.2 889.8) scale(16.4 16.2)" fill="#fffff6"/><use href="#rg145_185" transform="translate(1059.2 889.8) scale(15.4 15.2)" fill="#fffff9"/><use href="#rg145_185" transform="translate(1059.2 889.8) scale(14.4 14.2)" fill="#ffffff"/>
</g></g>
<text transform="translate(717.91 643.22) scale(0.9959 0.9543)" font-family='"Liberation Sans", Arial, Helvetica, sans-serif' font-weight="bold" font-size="50" fill="#000">e</text>
</g>
<g id="panel-f">
<g transform="translate(-11.5 1185.6) scale(1.03)">
<rect x="836.9" y="13.1" width="409.8" height="407.6" fill="#262626"/>
<path d="M836.95 8.6h5.8v5h-5.8zM836.95 420.2h5.8v5.3h-5.8zM832.7 13.05h4.7v5.8h-4.7zM1246.2 13.05h4.7v5.8h-4.7zM937.49 8.6h5.8v5h-5.8zM937.49 420.2h5.8v5.3h-5.8zM832.7 113.31h4.7v5.8h-4.7zM1246.2 113.31h4.7v5.8h-4.7zM1038.03 8.6h5.8v5h-5.8zM1038.03 420.2h5.8v5.3h-5.8zM832.7 213.57h4.7v5.8h-4.7zM1246.2 213.57h4.7v5.8h-4.7zM1138.57 8.6h5.8v5h-5.8zM1138.57 420.2h5.8v5.3h-5.8zM832.7 313.83h4.7v5.8h-4.7zM1246.2 313.83h4.7v5.8h-4.7zM1239.11 8.6h5.8v5h-5.8zM1239.11 420.2h5.8v5.3h-5.8zM832.7 414.09h4.7v5.8h-4.7zM1246.2 414.09h4.7v5.8h-4.7z" fill="#262626"/>
<g font-family='"Liberation Serif", "Times New Roman", Times, serif' font-weight="bold" font-size="38" fill="#262626">
<g text-anchor="middle">
<text x="839.85" y="469.1">0</text>
<text x="940.39" y="469.1">50</text>
<text x="1040.93" y="469.1">100</text>
<text x="1141.47" y="469.1">150</text>
<text x="1242.01" y="469.1">200</text>
</g><g text-anchor="end">
<text x="824" y="29.25">200</text>
<text x="824" y="129.51">150</text>
<text x="824" y="229.77">100</text>
<text x="824" y="330.03">50</text>
<text x="824" y="430.29">0</text>
</g></g>
<text x="1043" y="517.2" text-anchor="middle" font-family='"Liberation Serif", "Times New Roman", Times, serif' font-weight="bold" font-size="41.5" fill="#262626">x (nm)</text>
<text transform="translate(752.6 217.1) rotate(-90)" text-anchor="middle" font-family='"Liberation Serif", "Times New Roman", Times, serif' font-weight="bold" font-size="41.5" fill="#262626">y (nm)</text>
<rect x="1283.7" y="15.3" width="28.8" height="401.6" fill="url(#hotg)" stroke="#555" stroke-width="0.8"/>
<path d="M1312.5 115.7h-3.5M1312.5 216.1h-3.5M1312.5 316.5h-3.5" stroke="#262626" stroke-width="1" fill="none"/>
<g font-family='"Liberation Serif", "Times New Roman", Times, serif' font-weight="bold" font-size="34.5" fill="#262626">
<text x="1322.2" y="27.6">1</text>
<text x="1322.2" y="128">0.5</text>
<text x="1322.2" y="228.4">0</text>
<text x="1322.2" y="328.8">-0.5</text>
<text x="1322.2" y="429.2">-1</text>
</g>
<text transform="translate(1416 236.6) rotate(-90)" font-family='"Liberation Serif", "Times New Roman", Times, serif' font-weight="bold" font-size="35" fill="#262626">m<tspan font-size="28" dy="17">z</tspan></text>
</g>
<g clip-path="url(#cif)">
<rect x="855.4" y="1201.6" width="411.7" height="412.3" fill="#fff"/>
<use href="#rg160_195" transform="translate(1064.3 1354) scale(46.7 44.4)" fill="#fffff9"/><use href="#rg160_195" transform="translate(1064.3 1354) scale(45.7 43.4)" fill="#fffff6"/><use href="#rg160_195" transform="translate(1064.3 1354) scale(44.7 42.4)" fill="#fffff2"/><use href="#rg160_195" transform="translate(1064.3 1354) scale(43.7 41.4)" fill="#ffffed"/><use href="#rg160_195" transform="translate(1064.3 1354) scale(42.7 40.4)" fill="#ffffe6"/><use href="#rg160_195" transform="translate(1064.3 1354) scale(41.7 39.4)" fill="#ffffdc"/><use href="#rg160_195" transform="translate(1064.3 1354) scale(40.7 38.4)" fill="#ffffce"/><use href="#rg160_195" transform="translate(1064.3 1354) scale(39.7 37.4)" fill="#ffffbb"/><use href="#rg160_195" transform="translate(1064.3 1354) scale(38.7 36.4)" fill="#ffffa0"/><use href="#rg160_195" transform="translate(1064.3 1354) scale(37.7 35.4)" fill="#ffff7e"/><use href="#rg160_195" transform="translate(1064.3 1354) scale(36.7 34.4)" fill="#ffff51"/><use href="#rg160_195" transform="translate(1064.3 1354) scale(35.7 33.4)" fill="#ffff18"/><use href="#rg160_195" transform="translate(1064.3 1354) scale(34.7 32.4)" fill="#ffe100"/><use href="#rg160_195" transform="translate(1064.3 1354) scale(33.7 31.4)" fill="#ffac00"/><use href="#rg160_195" transform="translate(1064.3 1354) scale(32.7 30.4)" fill="#ff7300"/><use href="#rg160_195" transform="translate(1064.3 1354) scale(31.7 29.4)" fill="#ff3700"/><use href="#rg160_195" transform="translate(1064.3 1354) scale(30.7 28.4)" fill="#fd0000"/><use href="#rg160_195" transform="translate(1064.3 1354) scale(29.7 27.4)" fill="#c80000"/><use href="#rg160_195" transform="translate(1064.3 1354) scale(28.7 26.4)" fill="#9a0000"/><use href="#rg160_195" transform="translate(1064.3 1354) scale(27.7 25.4)" fill="#740000"/><use href="#rg160_195" transform="translate(1064.3 1354) scale(26.7 24.4)" fill="#560000"/><use href="#rg160_195" transform="translate(1064.3 1354) scale(25.7 23.4)" fill="#3f0000"/><use href="#rg160_195" transform="translate(1064.3 1354) scale(24.7 22.4)" fill="#2e0000"/><use href="#rg160_195" transform="translate(1064.3 1354) scale(23.7 21.4)" fill="#210000"/><use href="#rg160_195" transform="translate(1064.3 1354) scale(22.7 20.4)" fill="#170000"/><use href="#rg160_195" transform="translate(1064.3 1354) scale(21.7 19.4)" fill="#110000"/><use href="#rg160_195" transform="translate(1064.3 1354) scale(20.7 18.4)" fill="#0c0000"/><use href="#rg160_195" transform="translate(1064.3 1354) scale(19.7 17.4)" fill="#080000"/><use href="#rg160_195" transform="translate(1064.3 1354) scale(18.7 16.4)" fill="#060000"/><use href="#rg160_195" transform="translate(1064.3 1354) scale(17.7 15.4)" fill="#040000"/><use href="#rg160_195" transform="translate(1064.3 1354) scale(16.7 14.4)" fill="#000000"/><use href="#rg170_190" transform="translate(1065.5 1448.6) scale(50.8 43.6)" fill="#fffff9"/><use href="#rg170_190" transform="translate(1065.5 1448.6) scale(49.8 42.6)" fill="#fffff6"/><use href="#rg170_190" transform="translate(1065.5 1448.6) scale(48.8 41.6)" fill="#fffff2"/><use href="#rg170_190" transform="translate(1065.5 1448.6) scale(47.8 40.6)" fill="#ffffed"/><use href="#rg170_190" transform="translate(1065.5 1448.6) scale(46.8 39.6)" fill="#ffffe6"/><use href="#rg170_190" transform="translate(1065.5 1448.6) scale(45.8 38.6)" fill="#ffffdc"/><use href="#rg170_190" transform="translate(1065.5 1448.6) scale(44.8 37.6)" fill="#ffffce"/><use href="#rg170_190" transform="translate(1065.5 1448.6) scale(43.8 36.6)" fill="#ffffbb"/><use href="#rg170_190" transform="translate(1065.5 1448.6) scale(42.8 35.6)" fill="#ffffa0"/><use href="#rg170_190" transform="translate(1065.5 1448.6) scale(41.8 34.6)" fill="#ffff7e"/><use href="#rg170_190" transform="translate(1065.5 1448.6) scale(40.8 33.6)" fill="#ffff51"/><use href="#rg170_190" transform="translate(1065.5 1448.6) scale(39.8 32.6)" fill="#ffff18"/><use href="#rg170_190" transform="translate(1065.5 1448.6) scale(38.8 31.6)" fill="#ffe100"/><use href="#rg170_190" transform="translate(1065.5 1448.6) scale(37.8 30.6)" fill="#ffac00"/><use href="#rg170_190" transform="translate(1065.5 1448.6) scale(36.8 29.6)" fill="#ff7300"/><use href="#rg170_190" transform="translate(1065.5 1448.6) scale(35.8 28.6)" fill="#ff3700"/><use href="#rg170_190" transform="translate(1065.5 1448.6) scale(34.8 27.6)" fill="#fd0000"/><use href="#rg170_190" transform="translate(1065.5 1448.6) scale(33.8 26.6)" fill="#c80000"/><use href="#rg170_190" transform="translate(1065.5 1448.6) scale(32.8 25.6)" fill="#9a0000"/><use href="#rg170_190" transform="translate(1065.5 1448.6) scale(31.8 24.6)" fill="#740000"/><use href="#rg170_190" transform="translate(1065.5 1448.6) scale(30.8 23.6)" fill="#560000"/><use href="#rg170_190" transform="translate(1065.5 1448.6) scale(29.8 22.6)" fill="#3f0000"/><use href="#rg170_190" transform="translate(1065.5 1448.6) scale(28.8 21.6)" fill="#2e0000"/><use href="#rg170_190" transform="translate(1065.5 1448.6) scale(27.8 20.6)" fill="#210000"/><use href="#rg170_190" transform="translate(1065.5 1448.6) scale(26.8 19.6)" fill="#170000"/><use href="#rg170_190" transform="translate(1065.5 1448.6) scale(25.8 18.6)" fill="#110000"/><use href="#rg170_190" transform="translate(1065.5 1448.6) scale(24.8 17.6)" fill="#0c0000"/><use href="#rg170_190" transform="translate(1065.5 1448.6) scale(23.8 16.6)" fill="#080000"/><use href="#rg170_190" transform="translate(1065.5 1448.6) scale(22.8 15.6)" fill="#060000"/><use href="#rg170_190" transform="translate(1065.5 1448.6) scale(21.8 14.6)" fill="#040000"/><use href="#rg170_190" transform="translate(1065.5 1448.6) scale(20.8 13.6)" fill="#000000"/><use href="#rg145_180" transform="translate(1064.1 1538.6) scale(42.8 41.6)" fill="#fffff9"/><use href="#rg145_180" transform="translate(1064.1 1538.6) scale(41.8 40.6)" fill="#fffff6"/><use href="#rg145_180" transform="translate(1064.1 1538.6) scale(40.8 39.6)" fill="#fffff2"/><use href="#rg145_180" transform="translate(1064.1 1538.6) scale(39.8 38.6)" fill="#ffffed"/><use href="#rg145_180" transform="translate(1064.1 1538.6) scale(38.8 37.6)" fill="#ffffe6"/><use href="#rg145_180" transform="translate(1064.1 1538.6) scale(37.8 36.6)" fill="#ffffdc"/><use href="#rg145_180" transform="translate(1064.1 1538.6) scale(36.8 35.6)" fill="#ffffce"/><use href="#rg145_180" transform="translate(1064.1 1538.6) scale(35.8 34.6)" fill="#ffffbb"/><use href="#rg145_180" transform="translate(1064.1 1538.6) scale(34.8 33.6)" fill="#ffffa0"/><use href="#rg145_180" transform="translate(1064.1 1538.6) scale(33.8 32.6)" fill="#ffff7e"/><use href="#rg145_180" transform="translate(1064.1 1538.6) scale(32.8 31.6)" fill="#ffff51"/><use href="#rg145_180" transform="translate(1064.1 1538.6) scale(31.8 30.6)" fill="#ffff18"/><use href="#rg145_180" transform="translate(1064.1 1538.6) scale(30.8 29.6)" fill="#ffe100"/><use href="#rg145_180" transform="translate(1064.1 1538.6) scale(29.8 28.6)" fill="#ffac00"/><use href="#rg145_180" transform="translate(1064.1 1538.6) scale(28.8 27.6)" fill="#ff7300"/><use href="#rg145_180" transform="translate(1064.1 1538.6) scale(27.8 26.6)" fill="#ff3700"/><use href="#rg145_180" transform="translate(1064.1 1538.6) scale(26.8 25.6)" fill="#fd0000"/><use href="#rg145_180" transform="translate(1064.1 1538.6) scale(25.8 24.6)" fill="#c80000"/><use href="#rg145_180" transform="translate(1064.1 1538.6) scale(24.8 23.6)" fill="#9a0000"/><use href="#rg145_180" transform="translate(1064.1 1538.6) scale(23.8 22.6)" fill="#740000"/><use href="#rg145_180" transform="translate(1064.1 1538.6) scale(22.8 21.6)" fill="#560000"/><use href="#rg145_180" transform="translate(1064.1 1538.6) scale(21.8 20.6)" fill="#3f0000"/><use href="#rg145_180" transform="translate(1064.1 1538.6) scale(20.8 19.6)" fill="#2e0000"/><use href="#rg145_180" transform="translate(1064.1 1538.6) scale(19.8 18.6)" fill="#210000"/><use href="#rg145_180" transform="translate(1064.1 1538.6) scale(18.8 17.6)" fill="#170000"/><use href="#rg145_180" transform="translate(1064.1 1538.6) scale(17.8 16.6)" fill="#110000"/><use href="#rg145_180" transform="translate(1064.1 1538.6) scale(16.8 15.6)" fill="#0c0000"/><use href="#rg145_180" transform="translate(1064.1 1538.6) scale(15.8 14.6)" fill="#080000"/><use href="#rg145_180" transform="translate(1064.1 1538.6) scale(14.8 13.6)" fill="#060000"/><use href="#rg145_180" transform="translate(1064.1 1538.6) scale(13.8 12.6)" fill="#040000"/><use href="#rg145_180" transform="translate(1064.1 1538.6) scale(12.8 11.6)" fill="#000000"/>
<g mask="url(#mB)"><rect x="855.4" y="1201.6" width="411.7" height="412.3" fill="#000"/>
<use href="#rg160_195" transform="translate(1064.3 1354) scale(46.7 44.4)" fill="#040000"/><use href="#rg160_195" transform="translate(1064.3 1354) scale(45.7 43.4)" fill="#060000"/><use href="#rg160_195" transform="translate(1064.3 1354) scale(44.7 42.4)" fill="#080000"/><use href="#rg160_195" transform="translate(1064.3 1354) scale(43.7 41.4)" fill="#0c0000"/><use href="#rg160_195" transform="translate(1064.3 1354) scale(42.7 40.4)" fill="#110000"/><use href="#rg160_195" transform="translate(1064.3 1354) scale(41.7 39.4)" fill="#170000"/><use href="#rg160_195" transform="translate(1064.3 1354) scale(40.7 38.4)" fill="#210000"/><use href="#rg160_195" transform="translate(1064.3 1354) scale(39.7 37.4)" fill="#2e0000"/><use href="#rg160_195" transform="translate(1064.3 1354) scale(38.7 36.4)" fill="#3f0000"/><use href="#rg160_195" transform="translate(1064.3 1354) scale(37.7 35.4)" fill="#560000"/><use href="#rg160_195" transform="translate(1064.3 1354) scale(36.7 34.4)" fill="#740000"/><use href="#rg160_195" transform="translate(1064.3 1354) scale(35.7 33.4)" fill="#9a0000"/><use href="#rg160_195" transform="translate(1064.3 1354) scale(34.7 32.4)" fill="#c80000"/><use href="#rg160_195" transform="translate(1064.3 1354) scale(33.7 31.4)" fill="#fd0000"/><use href="#rg160_195" transform="translate(1064.3 1354) scale(32.7 30.4)" fill="#ff3700"/><use href="#rg160_195" transform="translate(1064.3 1354) scale(31.7 29.4)" fill="#ff7300"/><use href="#rg160_195" transform="translate(1064.3 1354) scale(30.7 28.4)" fill="#ffac00"/><use href="#rg160_195" transform="translate(1064.3 1354) scale(29.7 27.4)" fill="#ffe100"/><use href="#rg160_195" transform="translate(1064.3 1354) scale(28.7 26.4)" fill="#ffff18"/><use href="#rg160_195" transform="translate(1064.3 1354) scale(27.7 25.4)" fill="#ffff51"/><use href="#rg160_195" transform="translate(1064.3 1354) scale(26.7 24.4)" fill="#ffff7e"/><use href="#rg160_195" transform="translate(1064.3 1354) scale(25.7 23.4)" fill="#ffffa0"/><use href="#rg160_195" transform="translate(1064.3 1354) scale(24.7 22.4)" fill="#ffffbb"/><use href="#rg160_195" transform="translate(1064.3 1354) scale(23.7 21.4)" fill="#ffffce"/><use href="#rg160_195" transform="translate(1064.3 1354) scale(22.7 20.4)" fill="#ffffdc"/><use href="#rg160_195" transform="translate(1064.3 1354) scale(21.7 19.4)" fill="#ffffe6"/><use href="#rg160_195" transform="translate(1064.3 1354) scale(20.7 18.4)" fill="#ffffed"/><use href="#rg160_195" transform="translate(1064.3 1354) scale(19.7 17.4)" fill="#fffff2"/><use href="#rg160_195" transform="translate(1064.3 1354) scale(18.7 16.4)" fill="#fffff6"/><use href="#rg160_195" transform="translate(1064.3 1354) scale(17.7 15.4)" fill="#fffff9"/><use href="#rg160_195" transform="translate(1064.3 1354) scale(16.7 14.4)" fill="#ffffff"/><use href="#rg170_190" transform="translate(1065.5 1448.6) scale(50.8 43.6)" fill="#040000"/><use href="#rg170_190" transform="translate(1065.5 1448.6) scale(49.8 42.6)" fill="#060000"/><use href="#rg170_190" transform="translate(1065.5 1448.6) scale(48.8 41.6)" fill="#080000"/><use href="#rg170_190" transform="translate(1065.5 1448.6) scale(47.8 40.6)" fill="#0c0000"/><use href="#rg170_190" transform="translate(1065.5 1448.6) scale(46.8 39.6)" fill="#110000"/><use href="#rg170_190" transform="translate(1065.5 1448.6) scale(45.8 38.6)" fill="#170000"/><use href="#rg170_190" transform="translate(1065.5 1448.6) scale(44.8 37.6)" fill="#210000"/><use href="#rg170_190" transform="translate(1065.5 1448.6) scale(43.8 36.6)" fill="#2e0000"/><use href="#rg170_190" transform="translate(1065.5 1448.6) scale(42.8 35.6)" fill="#3f0000"/><use href="#rg170_190" transform="translate(1065.5 1448.6) scale(41.8 34.6)" fill="#560000"/><use href="#rg170_190" transform="translate(1065.5 1448.6) scale(40.8 33.6)" fill="#740000"/><use href="#rg170_190" transform="translate(1065.5 1448.6) scale(39.8 32.6)" fill="#9a0000"/><use href="#rg170_190" transform="translate(1065.5 1448.6) scale(38.8 31.6)" fill="#c80000"/><use href="#rg170_190" transform="translate(1065.5 1448.6) scale(37.8 30.6)" fill="#fd0000"/><use href="#rg170_190" transform="translate(1065.5 1448.6) scale(36.8 29.6)" fill="#ff3700"/><use href="#rg170_190" transform="translate(1065.5 1448.6) scale(35.8 28.6)" fill="#ff7300"/><use href="#rg170_190" transform="translate(1065.5 1448.6) scale(34.8 27.6)" fill="#ffac00"/><use href="#rg170_190" transform="translate(1065.5 1448.6) scale(33.8 26.6)" fill="#ffe100"/><use href="#rg170_190" transform="translate(1065.5 1448.6) scale(32.8 25.6)" fill="#ffff18"/><use href="#rg170_190" transform="translate(1065.5 1448.6) scale(31.8 24.6)" fill="#ffff51"/><use href="#rg170_190" transform="translate(1065.5 1448.6) scale(30.8 23.6)" fill="#ffff7e"/><use href="#rg170_190" transform="translate(1065.5 1448.6) scale(29.8 22.6)" fill="#ffffa0"/><use href="#rg170_190" transform="translate(1065.5 1448.6) scale(28.8 21.6)" fill="#ffffbb"/><use href="#rg170_190" transform="translate(1065.5 1448.6) scale(27.8 20.6)" fill="#ffffce"/><use href="#rg170_190" transform="translate(1065.5 1448.6) scale(26.8 19.6)" fill="#ffffdc"/><use href="#rg170_190" transform="translate(1065.5 1448.6) scale(25.8 18.6)" fill="#ffffe6"/><use href="#rg170_190" transform="translate(1065.5 1448.6) scale(24.8 17.6)" fill="#ffffed"/><use href="#rg170_190" transform="translate(1065.5 1448.6) scale(23.8 16.6)" fill="#fffff2"/><use href="#rg170_190" transform="translate(1065.5 1448.6) scale(22.8 15.6)" fill="#fffff6"/><use href="#rg170_190" transform="translate(1065.5 1448.6) scale(21.8 14.6)" fill="#fffff9"/><use href="#rg170_190" transform="translate(1065.5 1448.6) scale(20.8 13.6)" fill="#ffffff"/><use href="#rg145_180" transform="translate(1064.1 1538.6) scale(42.8 41.6)" fill="#040000"/><use href="#rg145_180" transform="translate(1064.1 1538.6) scale(41.8 40.6)" fill="#060000"/><use href="#rg145_180" transform="translate(1064.1 1538.6) scale(40.8 39.6)" fill="#080000"/><use href="#rg145_180" transform="translate(1064.1 1538.6) scale(39.8 38.6)" fill="#0c0000"/><use href="#rg145_180" transform="translate(1064.1 1538.6) scale(38.8 37.6)" fill="#110000"/><use href="#rg145_180" transform="translate(1064.1 1538.6) scale(37.8 36.6)" fill="#170000"/><use href="#rg145_180" transform="translate(1064.1 1538.6) scale(36.8 35.6)" fill="#210000"/><use href="#rg145_180" transform="translate(1064.1 1538.6) scale(35.8 34.6)" fill="#2e0000"/><use href="#rg145_180" transform="translate(1064.1 1538.6) scale(34.8 33.6)" fill="#3f0000"/><use href="#rg145_180" transform="translate(1064.1 1538.6) scale(33.8 32.6)" fill="#560000"/><use href="#rg145_180" transform="translate(1064.1 1538.6) scale(32.8 31.6)" fill="#740000"/><use href="#rg145_180" transform="translate(1064.1 1538.6) scale(31.8 30.6)" fill="#9a0000"/><use href="#rg145_180" transform="translate(1064.1 1538.6) scale(30.8 29.6)" fill="#c80000"/><use href="#rg145_180" transform="translate(1064.1 1538.6) scale(29.8 28.6)" fill="#fd0000"/><use href="#rg145_180" transform="translate(1064.1 1538.6) scale(28.8 27.6)" fill="#ff3700"/><use href="#rg145_180" transform="translate(1064.1 1538.6) scale(27.8 26.6)" fill="#ff7300"/><use href="#rg145_180" transform="translate(1064.1 1538.6) scale(26.8 25.6)" fill="#ffac00"/><use href="#rg145_180" transform="translate(1064.1 1538.6) scale(25.8 24.6)" fill="#ffe100"/><use href="#rg145_180" transform="translate(1064.1 1538.6) scale(24.8 23.6)" fill="#ffff18"/><use href="#rg145_180" transform="translate(1064.1 1538.6) scale(23.8 22.6)" fill="#ffff51"/><use href="#rg145_180" transform="translate(1064.1 1538.6) scale(22.8 21.6)" fill="#ffff7e"/><use href="#rg145_180" transform="translate(1064.1 1538.6) scale(21.8 20.6)" fill="#ffffa0"/><use href="#rg145_180" transform="translate(1064.1 1538.6) scale(20.8 19.6)" fill="#ffffbb"/><use href="#rg145_180" transform="translate(1064.1 1538.6) scale(19.8 18.6)" fill="#ffffce"/><use href="#rg145_180" transform="translate(1064.1 1538.6) scale(18.8 17.6)" fill="#ffffdc"/><use href="#rg145_180" transform="translate(1064.1 1538.6) scale(17.8 16.6)" fill="#ffffe6"/><use href="#rg145_180" transform="translate(1064.1 1538.6) scale(16.8 15.6)" fill="#ffffed"/><use href="#rg145_180" transform="translate(1064.1 1538.6) scale(15.8 14.6)" fill="#fffff2"/><use href="#rg145_180" transform="translate(1064.1 1538.6) scale(14.8 13.6)" fill="#fffff6"/><use href="#rg145_180" transform="translate(1064.1 1538.6) scale(13.8 12.6)" fill="#fffff9"/><use href="#rg145_180" transform="translate(1064.1 1538.6) scale(12.8 11.6)" fill="#ffffff"/>
</g></g>
<text transform="translate(717.12 1262.1) scale(1.0852 1.0428)" font-family='"Liberation Sans", Arial, Helvetica, sans-serif' font-weight="bold" font-size="50" fill="#000">f</text>
</g>
</svg>
</body>
</html>
